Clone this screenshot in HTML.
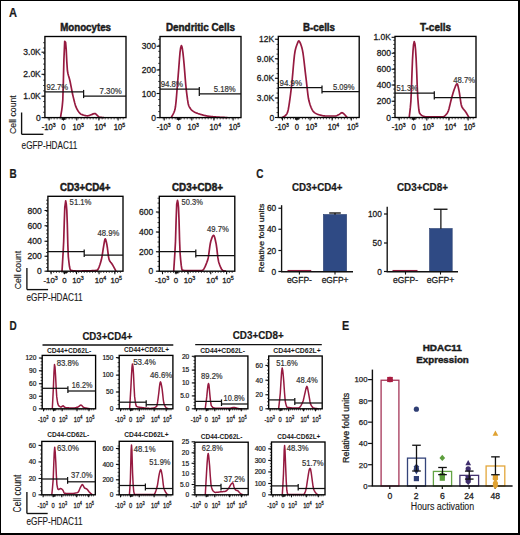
<!DOCTYPE html>
<html><head><meta charset="utf-8"><title>Figure</title>
<style>
html,body{margin:0;padding:0;background:#fff;}
body{width:520px;height:535px;position:relative;overflow:hidden;font-family:"Liberation Sans", sans-serif;}
.frame{position:absolute;left:0;top:0;width:520px;height:535px;box-sizing:border-box;border-style:solid;border-color:#000;border-width:1px 2px 2px 1px;pointer-events:none;}
</style></head><body>
<svg width="520" height="535" viewBox="0 0 520 535" style="position:absolute;left:0;top:0" font-family="'Liberation Sans', sans-serif" fill="#1a1a1a">
<rect x="0" y="0" width="520" height="535" fill="#fff"/>
<text x="9.1" y="17.2" font-size="12.4" text-anchor="start" font-weight="bold" textLength="8" lengthAdjust="spacingAndGlyphs" stroke="#1a1a1a" stroke-width="0.2">A</text>
<path d="M60.5,117.6 L61.08,113.85 L61.65,110.54 L62.22,106.35 L62.8,100 L63.35,81.99 L63.9,60 L64.7,41.3 L65.6,42.3 L66.2,49.23 L66.8,61.68 L67.4,70.5 L68,73.75 L68.6,76.01 L69.2,77.94 L69.8,80.2 L70.35,82.77 L70.9,85.55 L71.45,88.43 L72,91.27 L72.55,93.97 L73.1,96.4 L73.63,98.61 L74.17,100.8 L74.7,102.89 L75.23,104.8 L75.77,106.43 L76.3,107.7 L76.84,108.76 L77.39,109.75 L77.93,110.67 L78.48,111.52 L79.02,112.27 L79.57,112.92 L80.11,113.47 L80.66,113.9 L81.2,114.2 L81.73,114.43 L82.27,114.64 L82.8,114.84 L83.33,115.03 L83.87,115.2 L84.4,115.35 L84.93,115.48 L85.47,115.59 L86,115.68 L86.53,115.75 L87.07,115.79 L87.6,115.8 L88.17,115.75 L88.73,115.62 L89.3,115.43 L89.87,115.22 L90.43,115 L91,114.8 L91.56,114.6 L92.11,114.36 L92.67,114.12 L93.23,113.88 L93.79,113.69 L94.34,113.55 L94.9,113.5 L95.42,113.65 L95.94,114.05 L96.46,114.57 L96.98,115.13 L97.5,115.6 L98.05,116.07 L98.6,116.56 L99.15,116.97 L99.7,117.2 L100.24,117.29 L100.78,117.35 L101.31,117.4 L101.85,117.45 L102.39,117.48 L102.92,117.52 L103.46,117.56 L104,117.6" fill="none" stroke="#961a40" stroke-width="1.7" stroke-linejoin="round"/>
<rect x="44.9" y="36.5" width="81.1" height="81.1" fill="none" stroke="#000" stroke-width="1.35"/>
<line x1="41.5" y1="52.2" x2="44.9" y2="52.2" stroke="#111" stroke-width="1.1"/>
<text x="40.8" y="55.22" font-size="8.5" text-anchor="end" stroke="#1a1a1a" stroke-width="0.27">3.0K</text>
<line x1="41.5" y1="74.3" x2="44.9" y2="74.3" stroke="#111" stroke-width="1.1"/>
<text x="40.8" y="77.32" font-size="8.5" text-anchor="end" stroke="#1a1a1a" stroke-width="0.27">2.0K</text>
<line x1="41.5" y1="96.2" x2="44.9" y2="96.2" stroke="#111" stroke-width="1.1"/>
<text x="40.8" y="99.22" font-size="8.5" text-anchor="end" stroke="#1a1a1a" stroke-width="0.27">1.0K</text>
<line x1="41.5" y1="117.6" x2="44.9" y2="117.6" stroke="#111" stroke-width="1.1"/>
<text x="40.8" y="120.62" font-size="8.5" text-anchor="end" stroke="#1a1a1a" stroke-width="0.27">0</text>
<line x1="43.1" y1="117.6" x2="44.9" y2="117.6" stroke="#111" stroke-width="0.8"/>
<line x1="43.1" y1="112.25" x2="44.9" y2="112.25" stroke="#111" stroke-width="0.8"/>
<line x1="43.1" y1="106.9" x2="44.9" y2="106.9" stroke="#111" stroke-width="0.8"/>
<line x1="43.1" y1="101.55" x2="44.9" y2="101.55" stroke="#111" stroke-width="0.8"/>
<line x1="43.1" y1="96.2" x2="44.9" y2="96.2" stroke="#111" stroke-width="0.8"/>
<line x1="43.1" y1="90.85" x2="44.9" y2="90.85" stroke="#111" stroke-width="0.8"/>
<line x1="43.1" y1="85.5" x2="44.9" y2="85.5" stroke="#111" stroke-width="0.8"/>
<line x1="43.1" y1="80.15" x2="44.9" y2="80.15" stroke="#111" stroke-width="0.8"/>
<line x1="43.1" y1="74.8" x2="44.9" y2="74.8" stroke="#111" stroke-width="0.8"/>
<line x1="43.1" y1="69.45" x2="44.9" y2="69.45" stroke="#111" stroke-width="0.8"/>
<line x1="43.1" y1="64.1" x2="44.9" y2="64.1" stroke="#111" stroke-width="0.8"/>
<line x1="43.1" y1="58.75" x2="44.9" y2="58.75" stroke="#111" stroke-width="0.8"/>
<line x1="43.1" y1="53.4" x2="44.9" y2="53.4" stroke="#111" stroke-width="0.8"/>
<line x1="43.1" y1="48.05" x2="44.9" y2="48.05" stroke="#111" stroke-width="0.8"/>
<line x1="43.1" y1="42.7" x2="44.9" y2="42.7" stroke="#111" stroke-width="0.8"/>
<line x1="49.13" y1="117.6" x2="49.13" y2="120.6" stroke="#111" stroke-width="1.1"/>
<line x1="63.47" y1="117.6" x2="63.47" y2="120.6" stroke="#111" stroke-width="1.1"/>
<line x1="76.75" y1="117.6" x2="76.75" y2="120.6" stroke="#111" stroke-width="1.1"/>
<line x1="98.89" y1="117.6" x2="98.89" y2="120.6" stroke="#111" stroke-width="1.1"/>
<line x1="118.11" y1="117.6" x2="118.11" y2="120.6" stroke="#111" stroke-width="1.1"/>
<line x1="48.14" y1="117.6" x2="48.14" y2="119.4" stroke="#111" stroke-width="0.7"/>
<line x1="51.14" y1="117.6" x2="51.14" y2="119.4" stroke="#111" stroke-width="0.7"/>
<line x1="54.15" y1="117.6" x2="54.15" y2="119.4" stroke="#111" stroke-width="0.7"/>
<line x1="57.15" y1="117.6" x2="57.15" y2="119.4" stroke="#111" stroke-width="0.7"/>
<line x1="60.15" y1="117.6" x2="60.15" y2="119.4" stroke="#111" stroke-width="0.7"/>
<line x1="63.15" y1="117.6" x2="63.15" y2="119.4" stroke="#111" stroke-width="0.7"/>
<line x1="66.15" y1="117.6" x2="66.15" y2="119.4" stroke="#111" stroke-width="0.7"/>
<line x1="69.15" y1="117.6" x2="69.15" y2="119.4" stroke="#111" stroke-width="0.7"/>
<line x1="72.15" y1="117.6" x2="72.15" y2="119.4" stroke="#111" stroke-width="0.7"/>
<line x1="75.15" y1="117.6" x2="75.15" y2="119.4" stroke="#111" stroke-width="0.7"/>
<line x1="78.15" y1="117.6" x2="78.15" y2="119.4" stroke="#111" stroke-width="0.7"/>
<line x1="81.15" y1="117.6" x2="81.15" y2="119.4" stroke="#111" stroke-width="0.7"/>
<line x1="84.15" y1="117.6" x2="84.15" y2="119.4" stroke="#111" stroke-width="0.7"/>
<line x1="87.15" y1="117.6" x2="87.15" y2="119.4" stroke="#111" stroke-width="0.7"/>
<line x1="90.15" y1="117.6" x2="90.15" y2="119.4" stroke="#111" stroke-width="0.7"/>
<line x1="93.15" y1="117.6" x2="93.15" y2="119.4" stroke="#111" stroke-width="0.7"/>
<line x1="96.16" y1="117.6" x2="96.16" y2="119.4" stroke="#111" stroke-width="0.7"/>
<line x1="99.16" y1="117.6" x2="99.16" y2="119.4" stroke="#111" stroke-width="0.7"/>
<line x1="102.16" y1="117.6" x2="102.16" y2="119.4" stroke="#111" stroke-width="0.7"/>
<line x1="105.16" y1="117.6" x2="105.16" y2="119.4" stroke="#111" stroke-width="0.7"/>
<line x1="108.16" y1="117.6" x2="108.16" y2="119.4" stroke="#111" stroke-width="0.7"/>
<line x1="111.16" y1="117.6" x2="111.16" y2="119.4" stroke="#111" stroke-width="0.7"/>
<line x1="114.16" y1="117.6" x2="114.16" y2="119.4" stroke="#111" stroke-width="0.7"/>
<line x1="117.16" y1="117.6" x2="117.16" y2="119.4" stroke="#111" stroke-width="0.7"/>
<line x1="120.16" y1="117.6" x2="120.16" y2="119.4" stroke="#111" stroke-width="0.7"/>
<line x1="123.16" y1="117.6" x2="123.16" y2="119.4" stroke="#111" stroke-width="0.7"/>
<rect x="61.53" y="117.6" width="4.05" height="2.25" fill="#111"/>
<text transform="translate(48.63,129.9) scale(0.86,1)" x="0" y="0" font-size="8.9" text-anchor="middle" stroke="#1a1a1a" stroke-width="0.32">-10<tspan dy="-3.2" font-size="6.05">3</tspan></text>
<text transform="translate(63.47,129.9) scale(0.86,1)" x="0" y="0" font-size="8.9" text-anchor="middle" stroke="#1a1a1a" stroke-width="0.32">0</text>
<text transform="translate(78.15,129.9) scale(0.86,1)" x="0" y="0" font-size="8.9" text-anchor="middle" stroke="#1a1a1a" stroke-width="0.32">10<tspan dy="-3.2" font-size="6.05">3</tspan></text>
<text transform="translate(100.29,129.9) scale(0.86,1)" x="0" y="0" font-size="8.9" text-anchor="middle" stroke="#1a1a1a" stroke-width="0.32">10<tspan dy="-3.2" font-size="6.05">4</tspan></text>
<text transform="translate(119.51,129.9) scale(0.86,1)" x="0" y="0" font-size="8.9" text-anchor="middle" stroke="#1a1a1a" stroke-width="0.32">10<tspan dy="-3.2" font-size="6.05">5</tspan></text>
<line x1="44.9" y1="91.9" x2="83.6" y2="91.9" stroke="#111" stroke-width="1.25"/>
<line x1="83.6" y1="96.1" x2="126" y2="96.1" stroke="#111" stroke-width="1.25"/>
<line x1="83.6" y1="89.9" x2="83.6" y2="98.1" stroke="#111" stroke-width="1.25"/>
<text x="46.4" y="90.2" font-size="8.6" text-anchor="start" textLength="21.8" lengthAdjust="spacingAndGlyphs" fill="#333" stroke="#333" stroke-width="0.2">92.7%</text>
<text x="99.6" y="94.1" font-size="8.6" text-anchor="start" textLength="22.2" lengthAdjust="spacingAndGlyphs" fill="#333" stroke="#333" stroke-width="0.2">7.30%</text>
<text x="85.6" y="30.9" font-size="10.1" text-anchor="middle" font-weight="bold" textLength="50.8" lengthAdjust="spacingAndGlyphs" stroke="#1a1a1a" stroke-width="0.45">Monocytes</text>
<path d="M171.2,117.6 L171.74,116.51 L172.29,115.56 L172.83,114.64 L173.37,113.66 L173.91,112.51 L174.46,111.09 L175,109.3 L175.53,106.24 L176.07,101.37 L176.6,95.28 L177.13,88.53 L177.67,81.72 L178.2,75.4 L178.8,67.91 L179.4,59.74 L180,52.56 L180.6,48 L181.4,45.5 L181.9,46.64 L182.4,49 L182.95,52.89 L183.5,58 L184.06,63.92 L184.62,70.77 L185.18,77.86 L185.74,84.47 L186.3,89.9 L186.9,94.85 L187.5,99.46 L188.1,103.19 L188.7,105.5 L189.2,106.6 L189.7,107.54 L190.2,108.34 L190.7,109.03 L191.2,109.61 L191.7,110.1 L192.2,110.52 L192.7,110.9 L193.22,111.26 L193.74,111.59 L194.26,111.9 L194.79,112.18 L195.31,112.45 L195.83,112.69 L196.35,112.92 L196.87,113.13 L197.39,113.33 L197.91,113.52 L198.44,113.7 L198.96,113.87 L199.48,114.04 L200,114.2 L200.51,114.36 L201.02,114.51 L201.53,114.66 L202.04,114.8 L202.55,114.94 L203.06,115.08 L203.57,115.21 L204.08,115.34 L204.59,115.47 L205.11,115.58 L205.62,115.7 L206.13,115.81 L206.64,115.91 L207.15,116.01 L207.66,116.1 L208.17,116.18 L208.68,116.26 L209.19,116.33 L209.7,116.4 L210.21,116.46 L210.72,116.52 L211.23,116.57 L211.74,116.62 L212.25,116.67 L212.76,116.72 L213.27,116.77 L213.78,116.81 L214.29,116.85 L214.81,116.89 L215.32,116.93 L215.83,116.97 L216.34,117 L216.85,117.04 L217.36,117.07 L217.87,117.1 L218.38,117.14 L218.89,117.17 L219.4,117.2 L219.91,117.23 L220.41,117.26 L220.92,117.29 L221.43,117.31 L221.93,117.34 L222.44,117.36 L222.94,117.39 L223.45,117.41 L223.96,117.44 L224.46,117.46 L224.97,117.48 L225.47,117.5 L225.98,117.53 L226.49,117.55 L226.99,117.58 L227.5,117.6" fill="none" stroke="#961a40" stroke-width="1.7" stroke-linejoin="round"/>
<rect x="160" y="36.5" width="81" height="81.1" fill="none" stroke="#000" stroke-width="1.35"/>
<line x1="156.6" y1="46.25" x2="160" y2="46.25" stroke="#111" stroke-width="1.1"/>
<text x="155.9" y="49.27" font-size="8.5" text-anchor="end" stroke="#1a1a1a" stroke-width="0.27">300</text>
<line x1="156.6" y1="70" x2="160" y2="70" stroke="#111" stroke-width="1.1"/>
<text x="155.9" y="73.02" font-size="8.5" text-anchor="end" stroke="#1a1a1a" stroke-width="0.27">200</text>
<line x1="156.6" y1="93.5" x2="160" y2="93.5" stroke="#111" stroke-width="1.1"/>
<text x="155.9" y="96.52" font-size="8.5" text-anchor="end" stroke="#1a1a1a" stroke-width="0.27">100</text>
<line x1="156.6" y1="117.6" x2="160" y2="117.6" stroke="#111" stroke-width="1.1"/>
<text x="155.9" y="120.62" font-size="8.5" text-anchor="end" stroke="#1a1a1a" stroke-width="0.27">0</text>
<line x1="158.2" y1="117.6" x2="160" y2="117.6" stroke="#111" stroke-width="0.8"/>
<line x1="158.2" y1="111.57" x2="160" y2="111.57" stroke="#111" stroke-width="0.8"/>
<line x1="158.2" y1="105.55" x2="160" y2="105.55" stroke="#111" stroke-width="0.8"/>
<line x1="158.2" y1="99.52" x2="160" y2="99.52" stroke="#111" stroke-width="0.8"/>
<line x1="158.2" y1="93.5" x2="160" y2="93.5" stroke="#111" stroke-width="0.8"/>
<line x1="158.2" y1="87.47" x2="160" y2="87.47" stroke="#111" stroke-width="0.8"/>
<line x1="158.2" y1="81.45" x2="160" y2="81.45" stroke="#111" stroke-width="0.8"/>
<line x1="158.2" y1="75.42" x2="160" y2="75.42" stroke="#111" stroke-width="0.8"/>
<line x1="158.2" y1="69.4" x2="160" y2="69.4" stroke="#111" stroke-width="0.8"/>
<line x1="158.2" y1="63.37" x2="160" y2="63.37" stroke="#111" stroke-width="0.8"/>
<line x1="158.2" y1="57.35" x2="160" y2="57.35" stroke="#111" stroke-width="0.8"/>
<line x1="158.2" y1="51.32" x2="160" y2="51.32" stroke="#111" stroke-width="0.8"/>
<line x1="158.2" y1="45.3" x2="160" y2="45.3" stroke="#111" stroke-width="0.8"/>
<line x1="158.2" y1="39.27" x2="160" y2="39.27" stroke="#111" stroke-width="0.8"/>
<line x1="164.23" y1="117.6" x2="164.23" y2="120.6" stroke="#111" stroke-width="1.1"/>
<line x1="178.55" y1="117.6" x2="178.55" y2="120.6" stroke="#111" stroke-width="1.1"/>
<line x1="191.81" y1="117.6" x2="191.81" y2="120.6" stroke="#111" stroke-width="1.1"/>
<line x1="213.92" y1="117.6" x2="213.92" y2="120.6" stroke="#111" stroke-width="1.1"/>
<line x1="233.12" y1="117.6" x2="233.12" y2="120.6" stroke="#111" stroke-width="1.1"/>
<line x1="163.24" y1="117.6" x2="163.24" y2="119.4" stroke="#111" stroke-width="0.7"/>
<line x1="166.24" y1="117.6" x2="166.24" y2="119.4" stroke="#111" stroke-width="0.7"/>
<line x1="169.23" y1="117.6" x2="169.23" y2="119.4" stroke="#111" stroke-width="0.7"/>
<line x1="172.23" y1="117.6" x2="172.23" y2="119.4" stroke="#111" stroke-width="0.7"/>
<line x1="175.23" y1="117.6" x2="175.23" y2="119.4" stroke="#111" stroke-width="0.7"/>
<line x1="178.22" y1="117.6" x2="178.22" y2="119.4" stroke="#111" stroke-width="0.7"/>
<line x1="181.22" y1="117.6" x2="181.22" y2="119.4" stroke="#111" stroke-width="0.7"/>
<line x1="184.22" y1="117.6" x2="184.22" y2="119.4" stroke="#111" stroke-width="0.7"/>
<line x1="187.22" y1="117.6" x2="187.22" y2="119.4" stroke="#111" stroke-width="0.7"/>
<line x1="190.21" y1="117.6" x2="190.21" y2="119.4" stroke="#111" stroke-width="0.7"/>
<line x1="193.21" y1="117.6" x2="193.21" y2="119.4" stroke="#111" stroke-width="0.7"/>
<line x1="196.21" y1="117.6" x2="196.21" y2="119.4" stroke="#111" stroke-width="0.7"/>
<line x1="199.2" y1="117.6" x2="199.2" y2="119.4" stroke="#111" stroke-width="0.7"/>
<line x1="202.2" y1="117.6" x2="202.2" y2="119.4" stroke="#111" stroke-width="0.7"/>
<line x1="205.2" y1="117.6" x2="205.2" y2="119.4" stroke="#111" stroke-width="0.7"/>
<line x1="208.19" y1="117.6" x2="208.19" y2="119.4" stroke="#111" stroke-width="0.7"/>
<line x1="211.19" y1="117.6" x2="211.19" y2="119.4" stroke="#111" stroke-width="0.7"/>
<line x1="214.19" y1="117.6" x2="214.19" y2="119.4" stroke="#111" stroke-width="0.7"/>
<line x1="217.19" y1="117.6" x2="217.19" y2="119.4" stroke="#111" stroke-width="0.7"/>
<line x1="220.18" y1="117.6" x2="220.18" y2="119.4" stroke="#111" stroke-width="0.7"/>
<line x1="223.18" y1="117.6" x2="223.18" y2="119.4" stroke="#111" stroke-width="0.7"/>
<line x1="226.18" y1="117.6" x2="226.18" y2="119.4" stroke="#111" stroke-width="0.7"/>
<line x1="229.17" y1="117.6" x2="229.17" y2="119.4" stroke="#111" stroke-width="0.7"/>
<line x1="232.17" y1="117.6" x2="232.17" y2="119.4" stroke="#111" stroke-width="0.7"/>
<line x1="235.17" y1="117.6" x2="235.17" y2="119.4" stroke="#111" stroke-width="0.7"/>
<line x1="238.16" y1="117.6" x2="238.16" y2="119.4" stroke="#111" stroke-width="0.7"/>
<rect x="176.6" y="117.6" width="4.05" height="2.25" fill="#111"/>
<text transform="translate(163.73,129.9) scale(0.86,1)" x="0" y="0" font-size="8.9" text-anchor="middle" stroke="#1a1a1a" stroke-width="0.32">-10<tspan dy="-3.2" font-size="6.05">3</tspan></text>
<text transform="translate(178.55,129.9) scale(0.86,1)" x="0" y="0" font-size="8.9" text-anchor="middle" stroke="#1a1a1a" stroke-width="0.32">0</text>
<text transform="translate(193.21,129.9) scale(0.86,1)" x="0" y="0" font-size="8.9" text-anchor="middle" stroke="#1a1a1a" stroke-width="0.32">10<tspan dy="-3.2" font-size="6.05">3</tspan></text>
<text transform="translate(215.32,129.9) scale(0.86,1)" x="0" y="0" font-size="8.9" text-anchor="middle" stroke="#1a1a1a" stroke-width="0.32">10<tspan dy="-3.2" font-size="6.05">4</tspan></text>
<text transform="translate(234.52,129.9) scale(0.86,1)" x="0" y="0" font-size="8.9" text-anchor="middle" stroke="#1a1a1a" stroke-width="0.32">10<tspan dy="-3.2" font-size="6.05">5</tspan></text>
<line x1="160" y1="89.1" x2="199.3" y2="89.1" stroke="#111" stroke-width="1.25"/>
<line x1="199.3" y1="93.9" x2="241" y2="93.9" stroke="#111" stroke-width="1.25"/>
<line x1="199.3" y1="87.1" x2="199.3" y2="95.9" stroke="#111" stroke-width="1.25"/>
<text x="160.7" y="87.3" font-size="8.6" text-anchor="start" textLength="22.3" lengthAdjust="spacingAndGlyphs" fill="#333" stroke="#333" stroke-width="0.2">94.8%</text>
<text x="213.75" y="91.7" font-size="8.6" text-anchor="start" textLength="21.9" lengthAdjust="spacingAndGlyphs" fill="#333" stroke="#333" stroke-width="0.2">5.18%</text>
<text x="200.5" y="30.9" font-size="10.1" text-anchor="middle" font-weight="bold" textLength="69" lengthAdjust="spacingAndGlyphs" stroke="#1a1a1a" stroke-width="0.45">Dendritic Cells</text>
<path d="M282.2,117.5 L282.75,117.19 L283.3,116.91 L283.85,116.62 L284.4,116.31 L284.95,115.95 L285.5,115.5 L286.02,114.96 L286.55,114.26 L287.08,113.35 L287.6,112.2 L288.23,109.76 L288.87,106.09 L289.5,102 L290.05,98.22 L290.6,93.96 L291.15,89.38 L291.7,84.6 L292.25,79.17 L292.8,72.93 L293.35,66.46 L293.9,60.35 L294.45,55.16 L295,51.5 L295.55,49.06 L296.1,47.08 L296.65,45.43 L297.2,44 L297.73,42.58 L298.27,41.33 L298.8,40.8 L299.3,41.19 L299.8,42.11 L300.3,43.2 L300.82,44.43 L301.35,45.95 L301.88,47.77 L302.4,49.9 L302.97,52.97 L303.53,57 L304.1,61.66 L304.67,66.65 L305.23,71.64 L305.8,76.3 L306.33,80.74 L306.87,85.55 L307.4,90.36 L307.93,94.8 L308.47,98.51 L309,101.1 L309.5,102.83 L310,104.43 L310.5,105.89 L311,107.22 L311.5,108.41 L312,109.45 L312.5,110.36 L313,111.12 L313.5,111.73 L314,112.2 L314.5,112.58 L315,112.92 L315.5,113.23 L316,113.51 L316.5,113.77 L317,114 L317.5,114.21 L318,114.4 L318.5,114.57 L319,114.72 L319.5,114.87 L320,115 L320.51,115.13 L321.02,115.26 L321.53,115.39 L322.04,115.51 L322.55,115.63 L323.05,115.73 L323.56,115.82 L324.07,115.9 L324.58,115.95 L325.09,115.99 L325.6,116 L326.12,116 L326.64,116 L327.16,116 L327.68,116 L328.21,116 L328.73,116 L329.25,116 L329.77,116 L330.29,116 L330.81,116 L331.33,116 L331.85,116 L332.37,116 L332.89,116 L333.42,116 L333.94,116 L334.46,116 L334.98,116 L335.5,116 L336,115.95 L336.5,115.8 L337,115.59 L337.5,115.33 L338,115.05 L338.5,114.76 L339,114.5 L339.52,114.19 L340.03,113.81 L340.55,113.41 L341.07,113.05 L341.58,112.8 L342.1,112.7 L342.7,112.88 L343.3,113.33 L343.9,113.91 L344.5,114.5 L345.02,115.02 L345.54,115.61 L346.06,116.24 L346.58,116.88 L347.1,117.5" fill="none" stroke="#961a40" stroke-width="1.7" stroke-linejoin="round"/>
<rect x="278.3" y="36.4" width="80.9" height="81.1" fill="none" stroke="#000" stroke-width="1.35"/>
<line x1="274.9" y1="39.2" x2="278.3" y2="39.2" stroke="#111" stroke-width="1.1"/>
<text x="274.2" y="42.22" font-size="8.5" text-anchor="end" stroke="#1a1a1a" stroke-width="0.27">12K</text>
<line x1="274.9" y1="58.75" x2="278.3" y2="58.75" stroke="#111" stroke-width="1.1"/>
<text x="274.2" y="61.77" font-size="8.5" text-anchor="end" stroke="#1a1a1a" stroke-width="0.27">9.0K</text>
<line x1="274.9" y1="78.25" x2="278.3" y2="78.25" stroke="#111" stroke-width="1.1"/>
<text x="274.2" y="81.27" font-size="8.5" text-anchor="end" stroke="#1a1a1a" stroke-width="0.27">6.0K</text>
<line x1="274.9" y1="98" x2="278.3" y2="98" stroke="#111" stroke-width="1.1"/>
<text x="274.2" y="101.02" font-size="8.5" text-anchor="end" stroke="#1a1a1a" stroke-width="0.27">3.0K</text>
<line x1="274.9" y1="117.5" x2="278.3" y2="117.5" stroke="#111" stroke-width="1.1"/>
<text x="274.2" y="120.52" font-size="8.5" text-anchor="end" stroke="#1a1a1a" stroke-width="0.27">0</text>
<line x1="276.5" y1="117.5" x2="278.3" y2="117.5" stroke="#111" stroke-width="0.8"/>
<line x1="276.5" y1="112.62" x2="278.3" y2="112.62" stroke="#111" stroke-width="0.8"/>
<line x1="276.5" y1="107.75" x2="278.3" y2="107.75" stroke="#111" stroke-width="0.8"/>
<line x1="276.5" y1="102.88" x2="278.3" y2="102.88" stroke="#111" stroke-width="0.8"/>
<line x1="276.5" y1="98" x2="278.3" y2="98" stroke="#111" stroke-width="0.8"/>
<line x1="276.5" y1="93.12" x2="278.3" y2="93.12" stroke="#111" stroke-width="0.8"/>
<line x1="276.5" y1="88.25" x2="278.3" y2="88.25" stroke="#111" stroke-width="0.8"/>
<line x1="276.5" y1="83.38" x2="278.3" y2="83.38" stroke="#111" stroke-width="0.8"/>
<line x1="276.5" y1="78.5" x2="278.3" y2="78.5" stroke="#111" stroke-width="0.8"/>
<line x1="276.5" y1="73.62" x2="278.3" y2="73.62" stroke="#111" stroke-width="0.8"/>
<line x1="276.5" y1="68.75" x2="278.3" y2="68.75" stroke="#111" stroke-width="0.8"/>
<line x1="276.5" y1="63.88" x2="278.3" y2="63.88" stroke="#111" stroke-width="0.8"/>
<line x1="276.5" y1="59" x2="278.3" y2="59" stroke="#111" stroke-width="0.8"/>
<line x1="276.5" y1="54.12" x2="278.3" y2="54.12" stroke="#111" stroke-width="0.8"/>
<line x1="276.5" y1="49.25" x2="278.3" y2="49.25" stroke="#111" stroke-width="0.8"/>
<line x1="276.5" y1="44.38" x2="278.3" y2="44.38" stroke="#111" stroke-width="0.8"/>
<line x1="276.5" y1="39.5" x2="278.3" y2="39.5" stroke="#111" stroke-width="0.8"/>
<line x1="282.52" y1="117.5" x2="282.52" y2="120.5" stroke="#111" stroke-width="1.1"/>
<line x1="296.83" y1="117.5" x2="296.83" y2="120.5" stroke="#111" stroke-width="1.1"/>
<line x1="310.07" y1="117.5" x2="310.07" y2="120.5" stroke="#111" stroke-width="1.1"/>
<line x1="332.15" y1="117.5" x2="332.15" y2="120.5" stroke="#111" stroke-width="1.1"/>
<line x1="351.33" y1="117.5" x2="351.33" y2="120.5" stroke="#111" stroke-width="1.1"/>
<line x1="281.54" y1="117.5" x2="281.54" y2="119.3" stroke="#111" stroke-width="0.7"/>
<line x1="284.53" y1="117.5" x2="284.53" y2="119.3" stroke="#111" stroke-width="0.7"/>
<line x1="287.52" y1="117.5" x2="287.52" y2="119.3" stroke="#111" stroke-width="0.7"/>
<line x1="290.52" y1="117.5" x2="290.52" y2="119.3" stroke="#111" stroke-width="0.7"/>
<line x1="293.51" y1="117.5" x2="293.51" y2="119.3" stroke="#111" stroke-width="0.7"/>
<line x1="296.5" y1="117.5" x2="296.5" y2="119.3" stroke="#111" stroke-width="0.7"/>
<line x1="299.5" y1="117.5" x2="299.5" y2="119.3" stroke="#111" stroke-width="0.7"/>
<line x1="302.49" y1="117.5" x2="302.49" y2="119.3" stroke="#111" stroke-width="0.7"/>
<line x1="305.48" y1="117.5" x2="305.48" y2="119.3" stroke="#111" stroke-width="0.7"/>
<line x1="308.48" y1="117.5" x2="308.48" y2="119.3" stroke="#111" stroke-width="0.7"/>
<line x1="311.47" y1="117.5" x2="311.47" y2="119.3" stroke="#111" stroke-width="0.7"/>
<line x1="314.46" y1="117.5" x2="314.46" y2="119.3" stroke="#111" stroke-width="0.7"/>
<line x1="317.46" y1="117.5" x2="317.46" y2="119.3" stroke="#111" stroke-width="0.7"/>
<line x1="320.45" y1="117.5" x2="320.45" y2="119.3" stroke="#111" stroke-width="0.7"/>
<line x1="323.44" y1="117.5" x2="323.44" y2="119.3" stroke="#111" stroke-width="0.7"/>
<line x1="326.44" y1="117.5" x2="326.44" y2="119.3" stroke="#111" stroke-width="0.7"/>
<line x1="329.43" y1="117.5" x2="329.43" y2="119.3" stroke="#111" stroke-width="0.7"/>
<line x1="332.42" y1="117.5" x2="332.42" y2="119.3" stroke="#111" stroke-width="0.7"/>
<line x1="335.42" y1="117.5" x2="335.42" y2="119.3" stroke="#111" stroke-width="0.7"/>
<line x1="338.41" y1="117.5" x2="338.41" y2="119.3" stroke="#111" stroke-width="0.7"/>
<line x1="341.4" y1="117.5" x2="341.4" y2="119.3" stroke="#111" stroke-width="0.7"/>
<line x1="344.4" y1="117.5" x2="344.4" y2="119.3" stroke="#111" stroke-width="0.7"/>
<line x1="347.39" y1="117.5" x2="347.39" y2="119.3" stroke="#111" stroke-width="0.7"/>
<line x1="350.38" y1="117.5" x2="350.38" y2="119.3" stroke="#111" stroke-width="0.7"/>
<line x1="353.38" y1="117.5" x2="353.38" y2="119.3" stroke="#111" stroke-width="0.7"/>
<line x1="356.37" y1="117.5" x2="356.37" y2="119.3" stroke="#111" stroke-width="0.7"/>
<rect x="294.88" y="117.5" width="4.04" height="2.25" fill="#111"/>
<text transform="translate(282.02,129.8) scale(0.86,1)" x="0" y="0" font-size="8.9" text-anchor="middle" stroke="#1a1a1a" stroke-width="0.32">-10<tspan dy="-3.2" font-size="6.05">3</tspan></text>
<text transform="translate(296.83,129.8) scale(0.86,1)" x="0" y="0" font-size="8.9" text-anchor="middle" stroke="#1a1a1a" stroke-width="0.32">0</text>
<text transform="translate(311.47,129.8) scale(0.86,1)" x="0" y="0" font-size="8.9" text-anchor="middle" stroke="#1a1a1a" stroke-width="0.32">10<tspan dy="-3.2" font-size="6.05">3</tspan></text>
<text transform="translate(333.55,129.8) scale(0.86,1)" x="0" y="0" font-size="8.9" text-anchor="middle" stroke="#1a1a1a" stroke-width="0.32">10<tspan dy="-3.2" font-size="6.05">4</tspan></text>
<text transform="translate(352.73,129.8) scale(0.86,1)" x="0" y="0" font-size="8.9" text-anchor="middle" stroke="#1a1a1a" stroke-width="0.32">10<tspan dy="-3.2" font-size="6.05">5</tspan></text>
<line x1="278.3" y1="87.6" x2="322" y2="87.6" stroke="#111" stroke-width="1.25"/>
<line x1="322" y1="91.5" x2="359.2" y2="91.5" stroke="#111" stroke-width="1.25"/>
<line x1="322" y1="85.6" x2="322" y2="93.5" stroke="#111" stroke-width="1.25"/>
<text x="279.6" y="85.6" font-size="8.6" text-anchor="start" textLength="22.5" lengthAdjust="spacingAndGlyphs" fill="#333" stroke="#333" stroke-width="0.2">94.9%</text>
<text x="333" y="89.7" font-size="8.6" text-anchor="start" textLength="21.5" lengthAdjust="spacingAndGlyphs" fill="#333" stroke="#333" stroke-width="0.2">5.09%</text>
<text x="319" y="30.9" font-size="10.1" text-anchor="middle" font-weight="bold" textLength="32" lengthAdjust="spacingAndGlyphs" stroke="#1a1a1a" stroke-width="0.45">B-cells</text>
<path d="M409.2,117.5 L409.77,112.6 L410.33,107.69 L410.9,101.1 L411.43,89.23 L411.97,73.2 L412.5,59.8 L413,50.98 L413.5,45 L414.2,41.6 L415,44 L415.55,49.47 L416.1,58.1 L416.67,70.81 L417.23,86.21 L417.8,97.8 L418.33,104.58 L418.87,109.97 L419.4,112.7 L419.91,113.56 L420.43,114.25 L420.94,114.79 L421.46,115.2 L421.97,115.52 L422.49,115.78 L423,116 L423.5,116.2 L424,116.39 L424.5,116.55 L425,116.68 L425.5,116.77 L426,116.8 L426.5,116.8 L427.01,116.8 L427.51,116.8 L428.01,116.8 L428.52,116.8 L429.02,116.8 L429.52,116.8 L430.02,116.8 L430.53,116.8 L431.03,116.8 L431.53,116.8 L432.04,116.8 L432.54,116.8 L433.04,116.8 L433.55,116.8 L434.05,116.8 L434.55,116.8 L435.05,116.8 L435.56,116.8 L436.06,116.8 L436.56,116.8 L437.07,116.8 L437.57,116.8 L438.07,116.8 L438.58,116.8 L439.08,116.8 L439.58,116.8 L440.08,116.8 L440.59,116.8 L441.09,116.8 L441.59,116.8 L442.1,116.8 L442.6,116.8 L443.14,116.73 L443.69,116.54 L444.23,116.24 L444.78,115.83 L445.32,115.33 L445.87,114.76 L446.41,114.12 L446.96,113.43 L447.5,112.7 L448.02,111.7 L448.55,110.23 L449.07,108.4 L449.6,106.32 L450.12,104.11 L450.65,101.88 L451.18,99.74 L451.7,97.8 L452.2,96.04 L452.7,94.24 L453.2,92.5 L453.7,90.88 L454.2,89.5 L454.78,87.98 L455.36,86.46 L455.94,85.11 L456.52,84.16 L457.1,83.8 L457.6,84.53 L458.1,86.37 L458.6,88.77 L459.1,91.2 L459.6,94.01 L460.1,97.5 L460.6,101.08 L461.1,104.14 L461.6,106.1 L462.11,107.21 L462.62,108.1 L463.14,108.82 L463.65,109.44 L464.16,110 L464.68,110.56 L465.19,111.18 L465.7,111.9 L466.25,112.78 L466.8,113.69 L467.35,114.64 L467.9,115.6 L468.45,116.56 L469,117.5" fill="none" stroke="#961a40" stroke-width="1.7" stroke-linejoin="round"/>
<rect x="395" y="36.4" width="81" height="81.1" fill="none" stroke="#000" stroke-width="1.35"/>
<line x1="391.6" y1="37.3" x2="395" y2="37.3" stroke="#111" stroke-width="1.1"/>
<text x="390.9" y="40.32" font-size="8.5" text-anchor="end" stroke="#1a1a1a" stroke-width="0.27">1.0K</text>
<line x1="391.6" y1="53.25" x2="395" y2="53.25" stroke="#111" stroke-width="1.1"/>
<text x="390.9" y="56.27" font-size="8.5" text-anchor="end" stroke="#1a1a1a" stroke-width="0.27">800</text>
<line x1="391.6" y1="69.25" x2="395" y2="69.25" stroke="#111" stroke-width="1.1"/>
<text x="390.9" y="72.27" font-size="8.5" text-anchor="end" stroke="#1a1a1a" stroke-width="0.27">600</text>
<line x1="391.6" y1="85" x2="395" y2="85" stroke="#111" stroke-width="1.1"/>
<text x="390.9" y="88.02" font-size="8.5" text-anchor="end" stroke="#1a1a1a" stroke-width="0.27">400</text>
<line x1="391.6" y1="101.25" x2="395" y2="101.25" stroke="#111" stroke-width="1.1"/>
<text x="390.9" y="104.27" font-size="8.5" text-anchor="end" stroke="#1a1a1a" stroke-width="0.27">200</text>
<line x1="391.6" y1="117.5" x2="395" y2="117.5" stroke="#111" stroke-width="1.1"/>
<text x="390.9" y="120.52" font-size="8.5" text-anchor="end" stroke="#1a1a1a" stroke-width="0.27">0</text>
<line x1="393.2" y1="117.5" x2="395" y2="117.5" stroke="#111" stroke-width="0.8"/>
<line x1="393.2" y1="113.44" x2="395" y2="113.44" stroke="#111" stroke-width="0.8"/>
<line x1="393.2" y1="109.38" x2="395" y2="109.38" stroke="#111" stroke-width="0.8"/>
<line x1="393.2" y1="105.31" x2="395" y2="105.31" stroke="#111" stroke-width="0.8"/>
<line x1="393.2" y1="101.25" x2="395" y2="101.25" stroke="#111" stroke-width="0.8"/>
<line x1="393.2" y1="97.19" x2="395" y2="97.19" stroke="#111" stroke-width="0.8"/>
<line x1="393.2" y1="93.12" x2="395" y2="93.12" stroke="#111" stroke-width="0.8"/>
<line x1="393.2" y1="89.06" x2="395" y2="89.06" stroke="#111" stroke-width="0.8"/>
<line x1="393.2" y1="85" x2="395" y2="85" stroke="#111" stroke-width="0.8"/>
<line x1="393.2" y1="80.94" x2="395" y2="80.94" stroke="#111" stroke-width="0.8"/>
<line x1="393.2" y1="76.88" x2="395" y2="76.88" stroke="#111" stroke-width="0.8"/>
<line x1="393.2" y1="72.81" x2="395" y2="72.81" stroke="#111" stroke-width="0.8"/>
<line x1="393.2" y1="68.75" x2="395" y2="68.75" stroke="#111" stroke-width="0.8"/>
<line x1="393.2" y1="64.69" x2="395" y2="64.69" stroke="#111" stroke-width="0.8"/>
<line x1="393.2" y1="60.62" x2="395" y2="60.62" stroke="#111" stroke-width="0.8"/>
<line x1="393.2" y1="56.56" x2="395" y2="56.56" stroke="#111" stroke-width="0.8"/>
<line x1="393.2" y1="52.5" x2="395" y2="52.5" stroke="#111" stroke-width="0.8"/>
<line x1="393.2" y1="48.44" x2="395" y2="48.44" stroke="#111" stroke-width="0.8"/>
<line x1="393.2" y1="44.38" x2="395" y2="44.38" stroke="#111" stroke-width="0.8"/>
<line x1="393.2" y1="40.31" x2="395" y2="40.31" stroke="#111" stroke-width="0.8"/>
<line x1="399.23" y1="117.5" x2="399.23" y2="120.5" stroke="#111" stroke-width="1.1"/>
<line x1="413.55" y1="117.5" x2="413.55" y2="120.5" stroke="#111" stroke-width="1.1"/>
<line x1="426.81" y1="117.5" x2="426.81" y2="120.5" stroke="#111" stroke-width="1.1"/>
<line x1="448.92" y1="117.5" x2="448.92" y2="120.5" stroke="#111" stroke-width="1.1"/>
<line x1="468.12" y1="117.5" x2="468.12" y2="120.5" stroke="#111" stroke-width="1.1"/>
<line x1="398.24" y1="117.5" x2="398.24" y2="119.3" stroke="#111" stroke-width="0.7"/>
<line x1="401.24" y1="117.5" x2="401.24" y2="119.3" stroke="#111" stroke-width="0.7"/>
<line x1="404.23" y1="117.5" x2="404.23" y2="119.3" stroke="#111" stroke-width="0.7"/>
<line x1="407.23" y1="117.5" x2="407.23" y2="119.3" stroke="#111" stroke-width="0.7"/>
<line x1="410.23" y1="117.5" x2="410.23" y2="119.3" stroke="#111" stroke-width="0.7"/>
<line x1="413.23" y1="117.5" x2="413.23" y2="119.3" stroke="#111" stroke-width="0.7"/>
<line x1="416.22" y1="117.5" x2="416.22" y2="119.3" stroke="#111" stroke-width="0.7"/>
<line x1="419.22" y1="117.5" x2="419.22" y2="119.3" stroke="#111" stroke-width="0.7"/>
<line x1="422.22" y1="117.5" x2="422.22" y2="119.3" stroke="#111" stroke-width="0.7"/>
<line x1="425.21" y1="117.5" x2="425.21" y2="119.3" stroke="#111" stroke-width="0.7"/>
<line x1="428.21" y1="117.5" x2="428.21" y2="119.3" stroke="#111" stroke-width="0.7"/>
<line x1="431.21" y1="117.5" x2="431.21" y2="119.3" stroke="#111" stroke-width="0.7"/>
<line x1="434.2" y1="117.5" x2="434.2" y2="119.3" stroke="#111" stroke-width="0.7"/>
<line x1="437.2" y1="117.5" x2="437.2" y2="119.3" stroke="#111" stroke-width="0.7"/>
<line x1="440.2" y1="117.5" x2="440.2" y2="119.3" stroke="#111" stroke-width="0.7"/>
<line x1="443.19" y1="117.5" x2="443.19" y2="119.3" stroke="#111" stroke-width="0.7"/>
<line x1="446.19" y1="117.5" x2="446.19" y2="119.3" stroke="#111" stroke-width="0.7"/>
<line x1="449.19" y1="117.5" x2="449.19" y2="119.3" stroke="#111" stroke-width="0.7"/>
<line x1="452.19" y1="117.5" x2="452.19" y2="119.3" stroke="#111" stroke-width="0.7"/>
<line x1="455.18" y1="117.5" x2="455.18" y2="119.3" stroke="#111" stroke-width="0.7"/>
<line x1="458.18" y1="117.5" x2="458.18" y2="119.3" stroke="#111" stroke-width="0.7"/>
<line x1="461.18" y1="117.5" x2="461.18" y2="119.3" stroke="#111" stroke-width="0.7"/>
<line x1="464.17" y1="117.5" x2="464.17" y2="119.3" stroke="#111" stroke-width="0.7"/>
<line x1="467.17" y1="117.5" x2="467.17" y2="119.3" stroke="#111" stroke-width="0.7"/>
<line x1="470.17" y1="117.5" x2="470.17" y2="119.3" stroke="#111" stroke-width="0.7"/>
<line x1="473.16" y1="117.5" x2="473.16" y2="119.3" stroke="#111" stroke-width="0.7"/>
<rect x="411.61" y="117.5" width="4.05" height="2.25" fill="#111"/>
<text transform="translate(398.73,129.8) scale(0.86,1)" x="0" y="0" font-size="8.9" text-anchor="middle" stroke="#1a1a1a" stroke-width="0.32">-10<tspan dy="-3.2" font-size="6.05">3</tspan></text>
<text transform="translate(413.55,129.8) scale(0.86,1)" x="0" y="0" font-size="8.9" text-anchor="middle" stroke="#1a1a1a" stroke-width="0.32">0</text>
<text transform="translate(428.21,129.8) scale(0.86,1)" x="0" y="0" font-size="8.9" text-anchor="middle" stroke="#1a1a1a" stroke-width="0.32">10<tspan dy="-3.2" font-size="6.05">3</tspan></text>
<text transform="translate(450.32,129.8) scale(0.86,1)" x="0" y="0" font-size="8.9" text-anchor="middle" stroke="#1a1a1a" stroke-width="0.32">10<tspan dy="-3.2" font-size="6.05">4</tspan></text>
<text transform="translate(469.52,129.8) scale(0.86,1)" x="0" y="0" font-size="8.9" text-anchor="middle" stroke="#1a1a1a" stroke-width="0.32">10<tspan dy="-3.2" font-size="6.05">5</tspan></text>
<line x1="395" y1="93.2" x2="434.3" y2="93.2" stroke="#111" stroke-width="1.25"/>
<line x1="434.3" y1="97.5" x2="476" y2="97.5" stroke="#111" stroke-width="1.25"/>
<line x1="434.3" y1="91.2" x2="434.3" y2="99.5" stroke="#111" stroke-width="1.25"/>
<text x="396.6" y="91.4" font-size="8.6" text-anchor="start" textLength="21" lengthAdjust="spacingAndGlyphs" fill="#333" stroke="#333" stroke-width="0.2">51.3%</text>
<text x="453.3" y="83.2" font-size="8.6" text-anchor="start" textLength="21.8" lengthAdjust="spacingAndGlyphs" fill="#333" stroke="#333" stroke-width="0.2">48.7%</text>
<text x="435.5" y="30.9" font-size="10.1" text-anchor="middle" font-weight="bold" textLength="31" lengthAdjust="spacingAndGlyphs" stroke="#1a1a1a" stroke-width="0.45">T-cells</text>
<text x="15.9" y="114.6" font-size="9.4" text-anchor="middle" textLength="38.8" lengthAdjust="spacingAndGlyphs" transform="rotate(-90 15.9 114.6)" stroke="#1a1a1a" stroke-width="0.12">Cell count</text>
<line x1="21.6" y1="112.5" x2="21.6" y2="134.3" stroke="#111" stroke-width="1.35"/>
<line x1="21.6" y1="134.3" x2="43.4" y2="134.3" stroke="#111" stroke-width="1.35"/>
<text x="21.6" y="148.8" font-size="10.5" text-anchor="start" textLength="55.7" lengthAdjust="spacingAndGlyphs" stroke="#1a1a1a" stroke-width="0.12">eGFP-HDAC11</text>
<text x="9.5" y="177.5" font-size="12.4" text-anchor="start" font-weight="bold" textLength="7.2" lengthAdjust="spacingAndGlyphs" stroke="#1a1a1a" stroke-width="0.2">B</text>
<path d="M62,271.2 L62.57,261.86 L63.13,252.52 L63.7,241.2 L64.25,222.68 L64.8,207.3 L65.7,200.8 L66.25,203.78 L66.8,210.4 L67.3,224.12 L67.8,243.69 L68.3,256.5 L68.88,262 L69.45,266.28 L70.02,269.09 L70.6,270.2 L71.12,270.34 L71.63,270.47 L72.15,270.58 L72.67,270.68 L73.18,270.76 L73.7,270.83 L74.22,270.88 L74.73,270.93 L75.25,270.96 L75.77,270.98 L76.28,271 L76.8,271 L77.3,271 L77.8,271 L78.3,271 L78.8,271 L79.3,270.99 L79.8,270.99 L80.3,270.99 L80.8,270.99 L81.3,270.98 L81.8,270.98 L82.3,270.97 L82.8,270.96 L83.3,270.96 L83.8,270.95 L84.3,270.94 L84.8,270.93 L85.3,270.92 L85.8,270.91 L86.3,270.9 L86.8,270.89 L87.3,270.87 L87.8,270.86 L88.3,270.84 L88.8,270.83 L89.3,270.81 L89.8,270.79 L90.3,270.77 L90.8,270.75 L91.3,270.73 L91.8,270.7 L92.3,270.68 L92.8,270.65 L93.3,270.63 L93.8,270.6 L94.3,270.57 L94.8,270.54 L95.3,270.51 L95.8,270.47 L96.3,270.44 L96.8,270.4 L97.31,270.18 L97.82,269.62 L98.33,268.76 L98.84,267.64 L99.36,266.3 L99.87,264.79 L100.38,263.14 L100.89,261.4 L101.4,259.6 L101.98,256.86 L102.55,253.18 L103.12,249.26 L103.7,245.8 L104.2,242.83 L104.7,240.04 L105.2,238.8 L105.73,239.68 L106.27,241.76 L106.8,244.2 L107.38,247.76 L107.95,252.44 L108.52,256.86 L109.1,259.6 L109.62,260.72 L110.13,261.57 L110.65,262.24 L111.17,262.83 L111.68,263.45 L112.2,264.2 L112.74,265.12 L113.29,266.09 L113.83,267.09 L114.37,268.12 L114.91,269.15 L115.46,270.19 L116,271.2" fill="none" stroke="#961a40" stroke-width="1.7" stroke-linejoin="round"/>
<rect x="47.9" y="196.3" width="75.1" height="74.9" fill="none" stroke="#000" stroke-width="1.35"/>
<line x1="44.5" y1="210.5" x2="47.9" y2="210.5" stroke="#111" stroke-width="1.1"/>
<text x="41.8" y="213.52" font-size="8.5" text-anchor="end" stroke="#1a1a1a" stroke-width="0.27">800</text>
<line x1="44.5" y1="225.75" x2="47.9" y2="225.75" stroke="#111" stroke-width="1.1"/>
<text x="41.8" y="228.77" font-size="8.5" text-anchor="end" stroke="#1a1a1a" stroke-width="0.27">600</text>
<line x1="44.5" y1="241.25" x2="47.9" y2="241.25" stroke="#111" stroke-width="1.1"/>
<text x="41.8" y="244.27" font-size="8.5" text-anchor="end" stroke="#1a1a1a" stroke-width="0.27">400</text>
<line x1="44.5" y1="256.25" x2="47.9" y2="256.25" stroke="#111" stroke-width="1.1"/>
<text x="41.8" y="259.27" font-size="8.5" text-anchor="end" stroke="#1a1a1a" stroke-width="0.27">200</text>
<line x1="44.5" y1="271.2" x2="47.9" y2="271.2" stroke="#111" stroke-width="1.1"/>
<text x="41.8" y="274.22" font-size="8.5" text-anchor="end" stroke="#1a1a1a" stroke-width="0.27">0</text>
<line x1="46.1" y1="271.2" x2="47.9" y2="271.2" stroke="#111" stroke-width="0.8"/>
<line x1="46.1" y1="267.46" x2="47.9" y2="267.46" stroke="#111" stroke-width="0.8"/>
<line x1="46.1" y1="263.72" x2="47.9" y2="263.72" stroke="#111" stroke-width="0.8"/>
<line x1="46.1" y1="259.99" x2="47.9" y2="259.99" stroke="#111" stroke-width="0.8"/>
<line x1="46.1" y1="256.25" x2="47.9" y2="256.25" stroke="#111" stroke-width="0.8"/>
<line x1="46.1" y1="252.51" x2="47.9" y2="252.51" stroke="#111" stroke-width="0.8"/>
<line x1="46.1" y1="248.77" x2="47.9" y2="248.77" stroke="#111" stroke-width="0.8"/>
<line x1="46.1" y1="245.04" x2="47.9" y2="245.04" stroke="#111" stroke-width="0.8"/>
<line x1="46.1" y1="241.3" x2="47.9" y2="241.3" stroke="#111" stroke-width="0.8"/>
<line x1="46.1" y1="237.56" x2="47.9" y2="237.56" stroke="#111" stroke-width="0.8"/>
<line x1="46.1" y1="233.82" x2="47.9" y2="233.82" stroke="#111" stroke-width="0.8"/>
<line x1="46.1" y1="230.09" x2="47.9" y2="230.09" stroke="#111" stroke-width="0.8"/>
<line x1="46.1" y1="226.35" x2="47.9" y2="226.35" stroke="#111" stroke-width="0.8"/>
<line x1="46.1" y1="222.61" x2="47.9" y2="222.61" stroke="#111" stroke-width="0.8"/>
<line x1="46.1" y1="218.87" x2="47.9" y2="218.87" stroke="#111" stroke-width="0.8"/>
<line x1="46.1" y1="215.14" x2="47.9" y2="215.14" stroke="#111" stroke-width="0.8"/>
<line x1="46.1" y1="211.4" x2="47.9" y2="211.4" stroke="#111" stroke-width="0.8"/>
<line x1="46.1" y1="207.66" x2="47.9" y2="207.66" stroke="#111" stroke-width="0.8"/>
<line x1="46.1" y1="203.92" x2="47.9" y2="203.92" stroke="#111" stroke-width="0.8"/>
<line x1="46.1" y1="200.19" x2="47.9" y2="200.19" stroke="#111" stroke-width="0.8"/>
<line x1="51.1" y1="271.2" x2="51.1" y2="274.2" stroke="#111" stroke-width="1.1"/>
<line x1="64.5" y1="271.2" x2="64.5" y2="274.2" stroke="#111" stroke-width="1.1"/>
<line x1="76.54" y1="271.2" x2="76.54" y2="274.2" stroke="#111" stroke-width="1.1"/>
<line x1="99.07" y1="271.2" x2="99.07" y2="274.2" stroke="#111" stroke-width="1.1"/>
<line x1="114.84" y1="271.2" x2="114.84" y2="274.2" stroke="#111" stroke-width="1.1"/>
<line x1="50.9" y1="271.2" x2="50.9" y2="273" stroke="#111" stroke-width="0.7"/>
<line x1="53.68" y1="271.2" x2="53.68" y2="273" stroke="#111" stroke-width="0.7"/>
<line x1="56.46" y1="271.2" x2="56.46" y2="273" stroke="#111" stroke-width="0.7"/>
<line x1="59.24" y1="271.2" x2="59.24" y2="273" stroke="#111" stroke-width="0.7"/>
<line x1="62.02" y1="271.2" x2="62.02" y2="273" stroke="#111" stroke-width="0.7"/>
<line x1="64.8" y1="271.2" x2="64.8" y2="273" stroke="#111" stroke-width="0.7"/>
<line x1="67.58" y1="271.2" x2="67.58" y2="273" stroke="#111" stroke-width="0.7"/>
<line x1="70.35" y1="271.2" x2="70.35" y2="273" stroke="#111" stroke-width="0.7"/>
<line x1="73.13" y1="271.2" x2="73.13" y2="273" stroke="#111" stroke-width="0.7"/>
<line x1="75.91" y1="271.2" x2="75.91" y2="273" stroke="#111" stroke-width="0.7"/>
<line x1="78.69" y1="271.2" x2="78.69" y2="273" stroke="#111" stroke-width="0.7"/>
<line x1="81.47" y1="271.2" x2="81.47" y2="273" stroke="#111" stroke-width="0.7"/>
<line x1="84.25" y1="271.2" x2="84.25" y2="273" stroke="#111" stroke-width="0.7"/>
<line x1="87.03" y1="271.2" x2="87.03" y2="273" stroke="#111" stroke-width="0.7"/>
<line x1="89.81" y1="271.2" x2="89.81" y2="273" stroke="#111" stroke-width="0.7"/>
<line x1="92.58" y1="271.2" x2="92.58" y2="273" stroke="#111" stroke-width="0.7"/>
<line x1="95.36" y1="271.2" x2="95.36" y2="273" stroke="#111" stroke-width="0.7"/>
<line x1="98.14" y1="271.2" x2="98.14" y2="273" stroke="#111" stroke-width="0.7"/>
<line x1="100.92" y1="271.2" x2="100.92" y2="273" stroke="#111" stroke-width="0.7"/>
<line x1="103.7" y1="271.2" x2="103.7" y2="273" stroke="#111" stroke-width="0.7"/>
<line x1="106.48" y1="271.2" x2="106.48" y2="273" stroke="#111" stroke-width="0.7"/>
<line x1="109.26" y1="271.2" x2="109.26" y2="273" stroke="#111" stroke-width="0.7"/>
<line x1="112.04" y1="271.2" x2="112.04" y2="273" stroke="#111" stroke-width="0.7"/>
<line x1="114.81" y1="271.2" x2="114.81" y2="273" stroke="#111" stroke-width="0.7"/>
<line x1="117.59" y1="271.2" x2="117.59" y2="273" stroke="#111" stroke-width="0.7"/>
<line x1="120.37" y1="271.2" x2="120.37" y2="273" stroke="#111" stroke-width="0.7"/>
<rect x="63.3" y="271.2" width="3.75" height="2.25" fill="#111"/>
<text transform="translate(50.6,283.2) scale(1.0,1)" x="0" y="0" font-size="7.8" text-anchor="middle" stroke="#1a1a1a" stroke-width="0.28">-10<tspan dy="-2.81" font-size="5.3">3</tspan></text>
<text transform="translate(64.5,283.2) scale(1.0,1)" x="0" y="0" font-size="7.8" text-anchor="middle" stroke="#1a1a1a" stroke-width="0.28">0</text>
<text transform="translate(77.94,283.2) scale(1.0,1)" x="0" y="0" font-size="7.8" text-anchor="middle" stroke="#1a1a1a" stroke-width="0.28">10<tspan dy="-2.81" font-size="5.3">3</tspan></text>
<text transform="translate(100.47,283.2) scale(1.0,1)" x="0" y="0" font-size="7.8" text-anchor="middle" stroke="#1a1a1a" stroke-width="0.28">10<tspan dy="-2.81" font-size="5.3">4</tspan></text>
<text transform="translate(116.24,283.2) scale(1.0,1)" x="0" y="0" font-size="7.8" text-anchor="middle" stroke="#1a1a1a" stroke-width="0.28">10<tspan dy="-2.81" font-size="5.3">5</tspan></text>
<line x1="47.9" y1="251.5" x2="84.2" y2="251.5" stroke="#111" stroke-width="1.25"/>
<line x1="84.2" y1="255" x2="123" y2="255" stroke="#111" stroke-width="1.25"/>
<line x1="84.2" y1="249.5" x2="84.2" y2="257" stroke="#111" stroke-width="1.25"/>
<text x="69.6" y="204.9" font-size="8.6" text-anchor="start" textLength="21.9" lengthAdjust="spacingAndGlyphs" fill="#333" stroke="#333" stroke-width="0.2">51.1%</text>
<text x="97.5" y="235.6" font-size="8.6" text-anchor="start" textLength="21.8" lengthAdjust="spacingAndGlyphs" fill="#333" stroke="#333" stroke-width="0.2">48.9%</text>
<text x="85.25" y="191.25" font-size="10.1" text-anchor="middle" font-weight="bold" textLength="50.5" lengthAdjust="spacingAndGlyphs" stroke="#1a1a1a" stroke-width="0.45">CD3+CD4+</text>
<path d="M173.7,271.2 L174.3,261.92 L174.9,252.64 L175.5,241.2 L176.1,220.57 L176.7,204.2 L177.5,200.4 L178,202.52 L178.5,207.3 L179.03,220.36 L179.57,239.9 L180.1,253.5 L180.68,260.06 L181.25,265.43 L181.82,269.06 L182.4,270.4 L182.91,270.42 L183.41,270.44 L183.92,270.46 L184.42,270.48 L184.93,270.49 L185.43,270.51 L185.94,270.53 L186.44,270.54 L186.95,270.55 L187.45,270.57 L187.96,270.58 L188.46,270.59 L188.97,270.6 L189.47,270.61 L189.98,270.62 L190.48,270.63 L190.99,270.64 L191.49,270.64 L192,270.65 L192.51,270.66 L193.01,270.66 L193.52,270.67 L194.02,270.67 L194.53,270.68 L195.03,270.68 L195.54,270.68 L196.04,270.69 L196.55,270.69 L197.05,270.69 L197.56,270.69 L198.06,270.7 L198.57,270.7 L199.07,270.7 L199.58,270.7 L200.08,270.7 L200.59,270.7 L201.09,270.7 L201.6,270.7 L202.12,270.6 L202.63,270.3 L203.15,269.83 L203.67,269.18 L204.18,268.38 L204.7,267.44 L205.22,266.38 L205.73,265.2 L206.25,263.91 L206.77,262.55 L207.28,261.1 L207.8,259.6 L208.3,257.43 L208.8,254.21 L209.3,250.46 L209.8,246.7 L210.3,243.44 L210.8,241.2 L211.36,239.47 L211.92,237.87 L212.48,236.54 L213.04,235.63 L213.6,235.3 L214.12,235.83 L214.64,237.26 L215.16,239.3 L215.68,241.71 L216.2,244.2 L216.77,248.01 L217.35,253.08 L217.93,257.95 L218.5,261.2 L219.02,262.91 L219.54,264.49 L220.07,265.92 L220.59,267.19 L221.11,268.29 L221.63,269.21 L222.16,269.92 L222.68,270.42 L223.2,270.7 L223.76,270.85 L224.32,270.95 L224.88,271.03 L225.44,271.11 L226,271.2" fill="none" stroke="#961a40" stroke-width="1.7" stroke-linejoin="round"/>
<rect x="159.3" y="196.3" width="75.5" height="74.9" fill="none" stroke="#000" stroke-width="1.35"/>
<line x1="155.9" y1="212" x2="159.3" y2="212" stroke="#111" stroke-width="1.1"/>
<text x="153.2" y="215.02" font-size="8.5" text-anchor="end" stroke="#1a1a1a" stroke-width="0.27">600</text>
<line x1="155.9" y1="232" x2="159.3" y2="232" stroke="#111" stroke-width="1.1"/>
<text x="153.2" y="235.02" font-size="8.5" text-anchor="end" stroke="#1a1a1a" stroke-width="0.27">400</text>
<line x1="155.9" y1="251.75" x2="159.3" y2="251.75" stroke="#111" stroke-width="1.1"/>
<text x="153.2" y="254.77" font-size="8.5" text-anchor="end" stroke="#1a1a1a" stroke-width="0.27">200</text>
<line x1="155.9" y1="271.2" x2="159.3" y2="271.2" stroke="#111" stroke-width="1.1"/>
<text x="153.2" y="274.22" font-size="8.5" text-anchor="end" stroke="#1a1a1a" stroke-width="0.27">0</text>
<line x1="157.5" y1="271.2" x2="159.3" y2="271.2" stroke="#111" stroke-width="0.8"/>
<line x1="157.5" y1="266.34" x2="159.3" y2="266.34" stroke="#111" stroke-width="0.8"/>
<line x1="157.5" y1="261.47" x2="159.3" y2="261.47" stroke="#111" stroke-width="0.8"/>
<line x1="157.5" y1="256.61" x2="159.3" y2="256.61" stroke="#111" stroke-width="0.8"/>
<line x1="157.5" y1="251.75" x2="159.3" y2="251.75" stroke="#111" stroke-width="0.8"/>
<line x1="157.5" y1="246.89" x2="159.3" y2="246.89" stroke="#111" stroke-width="0.8"/>
<line x1="157.5" y1="242.02" x2="159.3" y2="242.02" stroke="#111" stroke-width="0.8"/>
<line x1="157.5" y1="237.16" x2="159.3" y2="237.16" stroke="#111" stroke-width="0.8"/>
<line x1="157.5" y1="232.3" x2="159.3" y2="232.3" stroke="#111" stroke-width="0.8"/>
<line x1="157.5" y1="227.44" x2="159.3" y2="227.44" stroke="#111" stroke-width="0.8"/>
<line x1="157.5" y1="222.57" x2="159.3" y2="222.57" stroke="#111" stroke-width="0.8"/>
<line x1="157.5" y1="217.71" x2="159.3" y2="217.71" stroke="#111" stroke-width="0.8"/>
<line x1="157.5" y1="212.85" x2="159.3" y2="212.85" stroke="#111" stroke-width="0.8"/>
<line x1="157.5" y1="207.99" x2="159.3" y2="207.99" stroke="#111" stroke-width="0.8"/>
<line x1="157.5" y1="203.12" x2="159.3" y2="203.12" stroke="#111" stroke-width="0.8"/>
<line x1="157.5" y1="198.26" x2="159.3" y2="198.26" stroke="#111" stroke-width="0.8"/>
<line x1="162.52" y1="271.2" x2="162.52" y2="274.2" stroke="#111" stroke-width="1.1"/>
<line x1="175.99" y1="271.2" x2="175.99" y2="274.2" stroke="#111" stroke-width="1.1"/>
<line x1="188.1" y1="271.2" x2="188.1" y2="274.2" stroke="#111" stroke-width="1.1"/>
<line x1="210.75" y1="271.2" x2="210.75" y2="274.2" stroke="#111" stroke-width="1.1"/>
<line x1="226.6" y1="271.2" x2="226.6" y2="274.2" stroke="#111" stroke-width="1.1"/>
<line x1="162.32" y1="271.2" x2="162.32" y2="273" stroke="#111" stroke-width="0.7"/>
<line x1="165.11" y1="271.2" x2="165.11" y2="273" stroke="#111" stroke-width="0.7"/>
<line x1="167.91" y1="271.2" x2="167.91" y2="273" stroke="#111" stroke-width="0.7"/>
<line x1="170.7" y1="271.2" x2="170.7" y2="273" stroke="#111" stroke-width="0.7"/>
<line x1="173.49" y1="271.2" x2="173.49" y2="273" stroke="#111" stroke-width="0.7"/>
<line x1="176.29" y1="271.2" x2="176.29" y2="273" stroke="#111" stroke-width="0.7"/>
<line x1="179.08" y1="271.2" x2="179.08" y2="273" stroke="#111" stroke-width="0.7"/>
<line x1="181.87" y1="271.2" x2="181.87" y2="273" stroke="#111" stroke-width="0.7"/>
<line x1="184.67" y1="271.2" x2="184.67" y2="273" stroke="#111" stroke-width="0.7"/>
<line x1="187.46" y1="271.2" x2="187.46" y2="273" stroke="#111" stroke-width="0.7"/>
<line x1="190.25" y1="271.2" x2="190.25" y2="273" stroke="#111" stroke-width="0.7"/>
<line x1="193.05" y1="271.2" x2="193.05" y2="273" stroke="#111" stroke-width="0.7"/>
<line x1="195.84" y1="271.2" x2="195.84" y2="273" stroke="#111" stroke-width="0.7"/>
<line x1="198.64" y1="271.2" x2="198.64" y2="273" stroke="#111" stroke-width="0.7"/>
<line x1="201.43" y1="271.2" x2="201.43" y2="273" stroke="#111" stroke-width="0.7"/>
<line x1="204.22" y1="271.2" x2="204.22" y2="273" stroke="#111" stroke-width="0.7"/>
<line x1="207.02" y1="271.2" x2="207.02" y2="273" stroke="#111" stroke-width="0.7"/>
<line x1="209.81" y1="271.2" x2="209.81" y2="273" stroke="#111" stroke-width="0.7"/>
<line x1="212.6" y1="271.2" x2="212.6" y2="273" stroke="#111" stroke-width="0.7"/>
<line x1="215.4" y1="271.2" x2="215.4" y2="273" stroke="#111" stroke-width="0.7"/>
<line x1="218.19" y1="271.2" x2="218.19" y2="273" stroke="#111" stroke-width="0.7"/>
<line x1="220.98" y1="271.2" x2="220.98" y2="273" stroke="#111" stroke-width="0.7"/>
<line x1="223.78" y1="271.2" x2="223.78" y2="273" stroke="#111" stroke-width="0.7"/>
<line x1="226.57" y1="271.2" x2="226.57" y2="273" stroke="#111" stroke-width="0.7"/>
<line x1="229.36" y1="271.2" x2="229.36" y2="273" stroke="#111" stroke-width="0.7"/>
<line x1="232.16" y1="271.2" x2="232.16" y2="273" stroke="#111" stroke-width="0.7"/>
<rect x="174.78" y="271.2" width="3.78" height="2.25" fill="#111"/>
<text transform="translate(162.02,283.2) scale(1.0,1)" x="0" y="0" font-size="7.8" text-anchor="middle" stroke="#1a1a1a" stroke-width="0.28">-10<tspan dy="-2.81" font-size="5.3">3</tspan></text>
<text transform="translate(175.99,283.2) scale(1.0,1)" x="0" y="0" font-size="7.8" text-anchor="middle" stroke="#1a1a1a" stroke-width="0.28">0</text>
<text transform="translate(189.5,283.2) scale(1.0,1)" x="0" y="0" font-size="7.8" text-anchor="middle" stroke="#1a1a1a" stroke-width="0.28">10<tspan dy="-2.81" font-size="5.3">3</tspan></text>
<text transform="translate(212.15,283.2) scale(1.0,1)" x="0" y="0" font-size="7.8" text-anchor="middle" stroke="#1a1a1a" stroke-width="0.28">10<tspan dy="-2.81" font-size="5.3">4</tspan></text>
<text transform="translate(228,283.2) scale(1.0,1)" x="0" y="0" font-size="7.8" text-anchor="middle" stroke="#1a1a1a" stroke-width="0.28">10<tspan dy="-2.81" font-size="5.3">5</tspan></text>
<line x1="159.3" y1="251.6" x2="195.8" y2="251.6" stroke="#111" stroke-width="1.25"/>
<line x1="195.8" y1="255.5" x2="234.8" y2="255.5" stroke="#111" stroke-width="1.25"/>
<line x1="195.8" y1="249.6" x2="195.8" y2="257.5" stroke="#111" stroke-width="1.25"/>
<text x="181.6" y="204.5" font-size="8.6" text-anchor="start" textLength="21.2" lengthAdjust="spacingAndGlyphs" fill="#333" stroke="#333" stroke-width="0.2">50.3%</text>
<text x="207" y="231.9" font-size="8.6" text-anchor="start" textLength="21.8" lengthAdjust="spacingAndGlyphs" fill="#333" stroke="#333" stroke-width="0.2">49.7%</text>
<text x="197.5" y="191.25" font-size="10.1" text-anchor="middle" font-weight="bold" textLength="51" lengthAdjust="spacingAndGlyphs" stroke="#1a1a1a" stroke-width="0.45">CD3+CD8+</text>
<text x="21.3" y="270" font-size="9.4" text-anchor="middle" textLength="38.3" lengthAdjust="spacingAndGlyphs" transform="rotate(-90 21.3 270)" stroke="#1a1a1a" stroke-width="0.12">Cell count</text>
<line x1="26.9" y1="268" x2="26.9" y2="289.6" stroke="#111" stroke-width="1.35"/>
<line x1="26.9" y1="289.6" x2="48.1" y2="289.6" stroke="#111" stroke-width="1.35"/>
<text x="26.5" y="301.4" font-size="10.3" text-anchor="start" textLength="56" lengthAdjust="spacingAndGlyphs" stroke="#1a1a1a" stroke-width="0.12">eGFP-HDAC11</text>
<text x="256.2" y="177.6" font-size="12.4" text-anchor="start" font-weight="bold" textLength="7.2" lengthAdjust="spacingAndGlyphs" stroke="#1a1a1a" stroke-width="0.2">C</text>
<rect x="323.4" y="214.5" width="23.2" height="57.25" fill="#2f4a84" stroke="#263d6e" stroke-width="0.6"/>
<rect x="287.5" y="269.95" width="23.75" height="1.8" fill="#8e1a3c"/>
<line x1="335" y1="213" x2="335" y2="214.7" stroke="#111" stroke-width="1.25"/>
<line x1="329.2" y1="213" x2="340.8" y2="213" stroke="#111" stroke-width="1.35"/>
<line x1="281.6" y1="205.2" x2="281.6" y2="271.75" stroke="#111" stroke-width="1.35"/>
<line x1="281" y1="271.75" x2="353" y2="271.75" stroke="#111" stroke-width="1.35"/>
<line x1="278.4" y1="208.25" x2="281.6" y2="208.25" stroke="#111" stroke-width="1.2"/>
<text x="276.2" y="211.25" font-size="8.3" text-anchor="end" stroke="#1a1a1a" stroke-width="0.27">60</text>
<line x1="278.4" y1="229.25" x2="281.6" y2="229.25" stroke="#111" stroke-width="1.2"/>
<text x="276.2" y="232.25" font-size="8.3" text-anchor="end" stroke="#1a1a1a" stroke-width="0.27">40</text>
<line x1="278.4" y1="250.5" x2="281.6" y2="250.5" stroke="#111" stroke-width="1.2"/>
<text x="276.2" y="253.5" font-size="8.3" text-anchor="end" stroke="#1a1a1a" stroke-width="0.27">20</text>
<line x1="278.4" y1="271.5" x2="281.6" y2="271.5" stroke="#111" stroke-width="1.2"/>
<text x="276.2" y="274.5" font-size="8.3" text-anchor="end" stroke="#1a1a1a" stroke-width="0.27">0</text>
<line x1="299.4" y1="271.75" x2="299.4" y2="274.55" stroke="#111" stroke-width="1.1"/>
<text x="299.4" y="282.7" font-size="8.3" text-anchor="middle" textLength="25" lengthAdjust="spacingAndGlyphs" stroke="#1a1a1a" stroke-width="0.27">eGFP-</text>
<line x1="335" y1="271.75" x2="335" y2="274.55" stroke="#111" stroke-width="1.1"/>
<text x="335" y="282.7" font-size="8.3" text-anchor="middle" textLength="26.75" lengthAdjust="spacingAndGlyphs" stroke="#1a1a1a" stroke-width="0.27">eGFP+</text>
<text x="317.25" y="191.3" font-size="10.2" text-anchor="middle" font-weight="bold" textLength="50.5" lengthAdjust="spacingAndGlyphs" stroke="#1a1a1a" stroke-width="0.22">CD3+CD4+</text>
<text x="263.6" y="238.1" font-size="8" text-anchor="middle" textLength="68.75" lengthAdjust="spacingAndGlyphs" transform="rotate(-90 263.6 238.1)" stroke="#1a1a1a" stroke-width="0.26">Relative fold units</text>
<rect x="429.55" y="228.55" width="22.65" height="43.2" fill="#2f4a84" stroke="#263d6e" stroke-width="0.6"/>
<rect x="392.5" y="269.95" width="25" height="1.8" fill="#8e1a3c"/>
<line x1="440.88" y1="209.25" x2="440.88" y2="228.75" stroke="#111" stroke-width="1.25"/>
<line x1="433.75" y1="209.25" x2="447.5" y2="209.25" stroke="#111" stroke-width="1.35"/>
<line x1="387.2" y1="206.8" x2="387.2" y2="271.75" stroke="#111" stroke-width="1.35"/>
<line x1="386.6" y1="271.75" x2="458" y2="271.75" stroke="#111" stroke-width="1.35"/>
<line x1="384" y1="214" x2="387.2" y2="214" stroke="#111" stroke-width="1.2"/>
<text x="381.8" y="217" font-size="8.3" text-anchor="end" stroke="#1a1a1a" stroke-width="0.27">100</text>
<line x1="384" y1="243" x2="387.2" y2="243" stroke="#111" stroke-width="1.2"/>
<text x="381.8" y="246" font-size="8.3" text-anchor="end" stroke="#1a1a1a" stroke-width="0.27">50</text>
<line x1="384" y1="271.5" x2="387.2" y2="271.5" stroke="#111" stroke-width="1.2"/>
<text x="381.8" y="274.5" font-size="8.3" text-anchor="end" stroke="#1a1a1a" stroke-width="0.27">0</text>
<line x1="405.5" y1="271.75" x2="405.5" y2="274.55" stroke="#111" stroke-width="1.1"/>
<text x="405.5" y="282.7" font-size="8.3" text-anchor="middle" textLength="25" lengthAdjust="spacingAndGlyphs" stroke="#1a1a1a" stroke-width="0.27">eGFP-</text>
<line x1="440.5" y1="271.75" x2="440.5" y2="274.55" stroke="#111" stroke-width="1.1"/>
<text x="440.5" y="282.7" font-size="8.3" text-anchor="middle" textLength="27.5" lengthAdjust="spacingAndGlyphs" stroke="#1a1a1a" stroke-width="0.27">eGFP+</text>
<text x="422.5" y="191.3" font-size="10.2" text-anchor="middle" font-weight="bold" textLength="51" lengthAdjust="spacingAndGlyphs" stroke="#1a1a1a" stroke-width="0.22">CD3+CD8+</text>
<text x="9.5" y="330" font-size="12.4" text-anchor="start" font-weight="bold" textLength="7.2" lengthAdjust="spacingAndGlyphs" stroke="#1a1a1a" stroke-width="0.2">D</text>
<text x="107.35" y="339.5" font-size="10.5" text-anchor="middle" font-weight="bold" textLength="49.9" lengthAdjust="spacingAndGlyphs" stroke="#1a1a1a" stroke-width="0.2">CD3+CD4+</text>
<line x1="42.5" y1="345" x2="173.3" y2="345" stroke="#111" stroke-width="1.35"/>
<text x="258.2" y="339.4" font-size="10.5" text-anchor="middle" font-weight="bold" textLength="51" lengthAdjust="spacingAndGlyphs" stroke="#1a1a1a" stroke-width="0.2">CD3+CD8+</text>
<line x1="195.2" y1="344.6" x2="321.8" y2="344.6" stroke="#111" stroke-width="1.35"/>
<path d="M52.3,408.8 L52.85,398.51 L53.4,387.4 L54,372 L54.5,364.6 L55,367 L55.6,376.3 L56.15,387.47 L56.7,396.4 L57.27,400.7 L57.83,403.77 L58.4,405.3 L58.96,405.89 L59.52,406.37 L60.08,406.71 L60.64,406.93 L61.2,407 L61.77,406.69 L62.33,406.11 L62.9,405.8 L63.45,406.05 L64,406.61 L64.55,407.19 L65.1,407.5 L65.62,407.57 L66.14,407.63 L66.66,407.68 L67.17,407.73 L67.69,407.78 L68.21,407.82 L68.73,407.86 L69.25,407.89 L69.77,407.92 L70.29,407.94 L70.81,407.96 L71.33,407.97 L71.84,407.99 L72.36,407.99 L72.88,408 L73.4,408 L73.9,407.98 L74.4,407.93 L74.9,407.85 L75.4,407.75 L75.9,407.62 L76.4,407.48 L76.9,407.33 L77.4,407.17 L77.9,407 L78.42,406.74 L78.93,406.35 L79.45,405.92 L79.97,405.52 L80.48,405.22 L81,405.1 L81.5,405.3 L82,405.78 L82.5,406.38 L83,406.94 L83.5,407.3 L84.05,407.51 L84.6,407.68 L85.15,407.83 L85.7,407.96 L86.25,408.07 L86.8,408.18 L87.35,408.29 L87.9,408.4 L88.43,408.51 L88.95,408.61 L89.47,408.7 L90,408.8" fill="none" stroke="#961a40" stroke-width="1.5" stroke-linejoin="round"/>
<rect x="42.2" y="355.4" width="53.4" height="53.4" fill="none" stroke="#000" stroke-width="1.35"/>
<line x1="38.9" y1="358" x2="42.2" y2="358" stroke="#111" stroke-width="1.1"/>
<text x="36.4" y="360.34" font-size="6.6" text-anchor="end" stroke="#1a1a1a" stroke-width="0.21">120</text>
<line x1="38.9" y1="370.75" x2="42.2" y2="370.75" stroke="#111" stroke-width="1.1"/>
<text x="36.4" y="373.09" font-size="6.6" text-anchor="end" stroke="#1a1a1a" stroke-width="0.21">90</text>
<line x1="38.9" y1="383.75" x2="42.2" y2="383.75" stroke="#111" stroke-width="1.1"/>
<text x="36.4" y="386.09" font-size="6.6" text-anchor="end" stroke="#1a1a1a" stroke-width="0.21">60</text>
<line x1="38.9" y1="396.25" x2="42.2" y2="396.25" stroke="#111" stroke-width="1.1"/>
<text x="36.4" y="398.59" font-size="6.6" text-anchor="end" stroke="#1a1a1a" stroke-width="0.21">30</text>
<line x1="38.9" y1="408.8" x2="42.2" y2="408.8" stroke="#111" stroke-width="1.1"/>
<text x="36.4" y="411.14" font-size="6.6" text-anchor="end" stroke="#1a1a1a" stroke-width="0.21">0</text>
<line x1="40.6" y1="408.8" x2="42.2" y2="408.8" stroke="#111" stroke-width="0.8"/>
<line x1="40.6" y1="405.66" x2="42.2" y2="405.66" stroke="#111" stroke-width="0.8"/>
<line x1="40.6" y1="402.53" x2="42.2" y2="402.53" stroke="#111" stroke-width="0.8"/>
<line x1="40.6" y1="399.39" x2="42.2" y2="399.39" stroke="#111" stroke-width="0.8"/>
<line x1="40.6" y1="396.25" x2="42.2" y2="396.25" stroke="#111" stroke-width="0.8"/>
<line x1="40.6" y1="393.11" x2="42.2" y2="393.11" stroke="#111" stroke-width="0.8"/>
<line x1="40.6" y1="389.98" x2="42.2" y2="389.98" stroke="#111" stroke-width="0.8"/>
<line x1="40.6" y1="386.84" x2="42.2" y2="386.84" stroke="#111" stroke-width="0.8"/>
<line x1="40.6" y1="383.7" x2="42.2" y2="383.7" stroke="#111" stroke-width="0.8"/>
<line x1="40.6" y1="380.56" x2="42.2" y2="380.56" stroke="#111" stroke-width="0.8"/>
<line x1="40.6" y1="377.43" x2="42.2" y2="377.43" stroke="#111" stroke-width="0.8"/>
<line x1="40.6" y1="374.29" x2="42.2" y2="374.29" stroke="#111" stroke-width="0.8"/>
<line x1="40.6" y1="371.15" x2="42.2" y2="371.15" stroke="#111" stroke-width="0.8"/>
<line x1="40.6" y1="368.01" x2="42.2" y2="368.01" stroke="#111" stroke-width="0.8"/>
<line x1="40.6" y1="364.88" x2="42.2" y2="364.88" stroke="#111" stroke-width="0.8"/>
<line x1="40.6" y1="361.74" x2="42.2" y2="361.74" stroke="#111" stroke-width="0.8"/>
<line x1="40.6" y1="358.6" x2="42.2" y2="358.6" stroke="#111" stroke-width="0.8"/>
<line x1="43.51" y1="408.8" x2="43.51" y2="411.3" stroke="#111" stroke-width="1.1"/>
<line x1="53.52" y1="408.8" x2="53.52" y2="411.3" stroke="#111" stroke-width="1.1"/>
<line x1="62.14" y1="408.8" x2="62.14" y2="411.3" stroke="#111" stroke-width="1.1"/>
<line x1="76.98" y1="408.8" x2="76.98" y2="411.3" stroke="#111" stroke-width="1.1"/>
<line x1="88.95" y1="408.8" x2="88.95" y2="411.3" stroke="#111" stroke-width="1.1"/>
<line x1="44.34" y1="408.8" x2="44.34" y2="410.4" stroke="#111" stroke-width="0.7"/>
<line x1="46.31" y1="408.8" x2="46.31" y2="410.4" stroke="#111" stroke-width="0.7"/>
<line x1="48.29" y1="408.8" x2="48.29" y2="410.4" stroke="#111" stroke-width="0.7"/>
<line x1="50.26" y1="408.8" x2="50.26" y2="410.4" stroke="#111" stroke-width="0.7"/>
<line x1="52.24" y1="408.8" x2="52.24" y2="410.4" stroke="#111" stroke-width="0.7"/>
<line x1="54.22" y1="408.8" x2="54.22" y2="410.4" stroke="#111" stroke-width="0.7"/>
<line x1="56.19" y1="408.8" x2="56.19" y2="410.4" stroke="#111" stroke-width="0.7"/>
<line x1="58.17" y1="408.8" x2="58.17" y2="410.4" stroke="#111" stroke-width="0.7"/>
<line x1="60.14" y1="408.8" x2="60.14" y2="410.4" stroke="#111" stroke-width="0.7"/>
<line x1="62.12" y1="408.8" x2="62.12" y2="410.4" stroke="#111" stroke-width="0.7"/>
<line x1="64.09" y1="408.8" x2="64.09" y2="410.4" stroke="#111" stroke-width="0.7"/>
<line x1="66.07" y1="408.8" x2="66.07" y2="410.4" stroke="#111" stroke-width="0.7"/>
<line x1="68.05" y1="408.8" x2="68.05" y2="410.4" stroke="#111" stroke-width="0.7"/>
<line x1="70.02" y1="408.8" x2="70.02" y2="410.4" stroke="#111" stroke-width="0.7"/>
<line x1="72" y1="408.8" x2="72" y2="410.4" stroke="#111" stroke-width="0.7"/>
<line x1="73.97" y1="408.8" x2="73.97" y2="410.4" stroke="#111" stroke-width="0.7"/>
<line x1="75.95" y1="408.8" x2="75.95" y2="410.4" stroke="#111" stroke-width="0.7"/>
<line x1="77.92" y1="408.8" x2="77.92" y2="410.4" stroke="#111" stroke-width="0.7"/>
<line x1="79.9" y1="408.8" x2="79.9" y2="410.4" stroke="#111" stroke-width="0.7"/>
<line x1="81.88" y1="408.8" x2="81.88" y2="410.4" stroke="#111" stroke-width="0.7"/>
<line x1="83.85" y1="408.8" x2="83.85" y2="410.4" stroke="#111" stroke-width="0.7"/>
<line x1="85.83" y1="408.8" x2="85.83" y2="410.4" stroke="#111" stroke-width="0.7"/>
<line x1="87.8" y1="408.8" x2="87.8" y2="410.4" stroke="#111" stroke-width="0.7"/>
<line x1="89.78" y1="408.8" x2="89.78" y2="410.4" stroke="#111" stroke-width="0.7"/>
<line x1="91.76" y1="408.8" x2="91.76" y2="410.4" stroke="#111" stroke-width="0.7"/>
<line x1="93.73" y1="408.8" x2="93.73" y2="410.4" stroke="#111" stroke-width="0.7"/>
<rect x="53.15" y="408.8" width="2.67" height="1.88" fill="#111"/>
<text transform="translate(43.11,421.8) scale(0.82,1)" x="0" y="0" font-size="7" text-anchor="middle" stroke="#1a1a1a" stroke-width="0.25">-10<tspan dy="-2.52" font-size="4.76">3</tspan></text>
<text transform="translate(53.52,421.8) scale(0.82,1)" x="0" y="0" font-size="7" text-anchor="middle" stroke="#1a1a1a" stroke-width="0.25">0</text>
<text transform="translate(63.24,421.8) scale(0.82,1)" x="0" y="0" font-size="7" text-anchor="middle" stroke="#1a1a1a" stroke-width="0.25">10<tspan dy="-2.52" font-size="4.76">3</tspan></text>
<text transform="translate(78.08,421.8) scale(0.82,1)" x="0" y="0" font-size="7" text-anchor="middle" stroke="#1a1a1a" stroke-width="0.25">10<tspan dy="-2.52" font-size="4.76">4</tspan></text>
<text transform="translate(90.05,421.8) scale(0.82,1)" x="0" y="0" font-size="7" text-anchor="middle" stroke="#1a1a1a" stroke-width="0.25">10<tspan dy="-2.52" font-size="4.76">5</tspan></text>
<line x1="42.2" y1="388.3" x2="67.9" y2="388.3" stroke="#111" stroke-width="1.25"/>
<line x1="67.9" y1="391" x2="95.6" y2="391" stroke="#111" stroke-width="1.25"/>
<line x1="67.9" y1="386.3" x2="67.9" y2="393" stroke="#111" stroke-width="1.25"/>
<text x="56.7" y="365.9" font-size="8.3" text-anchor="start" textLength="22.1" lengthAdjust="spacingAndGlyphs" fill="#333" stroke="#333" stroke-width="0.2">83.8%</text>
<text x="71.8" y="388.4" font-size="8.3" text-anchor="start" textLength="20.6" lengthAdjust="spacingAndGlyphs" fill="#333" stroke="#333" stroke-width="0.2">16.2%</text>
<text x="69.1" y="352.5" font-size="6.5" text-anchor="middle" font-weight="bold" textLength="44.25" lengthAdjust="spacingAndGlyphs" stroke="#1a1a1a" stroke-width="0">CD44+CD62L-</text>
<path d="M129.6,408.8 L130.25,398.26 L130.9,387.4 L131.45,376.18 L132,367 L132.4,364 L133,367 L133.5,374 L134.05,386.22 L134.6,396.4 L135.23,401.41 L135.87,404.91 L136.5,406.4 L137,406.62 L137.5,406.8 L138,406.95 L138.5,407.07 L139,407.17 L139.5,407.24 L140,407.31 L140.5,407.37 L141,407.43 L141.5,407.5 L142.02,407.58 L142.55,407.65 L143.07,407.73 L143.59,407.8 L144.12,407.87 L144.64,407.95 L145.16,408.01 L145.69,408.08 L146.21,408.14 L146.74,408.2 L147.26,408.25 L147.78,408.29 L148.31,408.33 L148.83,408.36 L149.35,408.38 L149.88,408.4 L150.4,408.4 L150.92,408.39 L151.43,408.35 L151.95,408.3 L152.47,408.21 L152.98,408.1 L153.5,407.95 L154.02,407.78 L154.53,407.58 L155.05,407.34 L155.57,407.06 L156.08,406.75 L156.6,406.4 L157.15,404.82 L157.7,401.47 L158.25,397.23 L158.8,393 L159.4,387.41 L160,383 L160.5,381.9 L161,383 L161.6,385.8 L162.2,389.7 L162.73,394.31 L163.27,399.53 L163.8,403 L164.35,404.66 L164.9,405.94 L165.45,406.87 L166,407.5 L166.57,407.93 L167.15,408.24 L167.73,408.51 L168.3,408.8" fill="none" stroke="#961a40" stroke-width="1.5" stroke-linejoin="round"/>
<rect x="119.2" y="355.4" width="53.7" height="53.4" fill="none" stroke="#000" stroke-width="1.35"/>
<line x1="115.9" y1="357.6" x2="119.2" y2="357.6" stroke="#111" stroke-width="1.1"/>
<text x="113.4" y="359.94" font-size="6.6" text-anchor="end" stroke="#1a1a1a" stroke-width="0.21">150</text>
<line x1="115.9" y1="375.1" x2="119.2" y2="375.1" stroke="#111" stroke-width="1.1"/>
<text x="113.4" y="377.44" font-size="6.6" text-anchor="end" stroke="#1a1a1a" stroke-width="0.21">100</text>
<line x1="115.9" y1="392" x2="119.2" y2="392" stroke="#111" stroke-width="1.1"/>
<text x="113.4" y="394.34" font-size="6.6" text-anchor="end" stroke="#1a1a1a" stroke-width="0.21">50</text>
<line x1="115.9" y1="408.8" x2="119.2" y2="408.8" stroke="#111" stroke-width="1.1"/>
<text x="113.4" y="411.14" font-size="6.6" text-anchor="end" stroke="#1a1a1a" stroke-width="0.21">0</text>
<line x1="117.6" y1="408.8" x2="119.2" y2="408.8" stroke="#111" stroke-width="0.8"/>
<line x1="117.6" y1="404.6" x2="119.2" y2="404.6" stroke="#111" stroke-width="0.8"/>
<line x1="117.6" y1="400.4" x2="119.2" y2="400.4" stroke="#111" stroke-width="0.8"/>
<line x1="117.6" y1="396.2" x2="119.2" y2="396.2" stroke="#111" stroke-width="0.8"/>
<line x1="117.6" y1="392" x2="119.2" y2="392" stroke="#111" stroke-width="0.8"/>
<line x1="117.6" y1="387.8" x2="119.2" y2="387.8" stroke="#111" stroke-width="0.8"/>
<line x1="117.6" y1="383.6" x2="119.2" y2="383.6" stroke="#111" stroke-width="0.8"/>
<line x1="117.6" y1="379.4" x2="119.2" y2="379.4" stroke="#111" stroke-width="0.8"/>
<line x1="117.6" y1="375.2" x2="119.2" y2="375.2" stroke="#111" stroke-width="0.8"/>
<line x1="117.6" y1="371" x2="119.2" y2="371" stroke="#111" stroke-width="0.8"/>
<line x1="117.6" y1="366.8" x2="119.2" y2="366.8" stroke="#111" stroke-width="0.8"/>
<line x1="117.6" y1="362.6" x2="119.2" y2="362.6" stroke="#111" stroke-width="0.8"/>
<line x1="117.6" y1="358.4" x2="119.2" y2="358.4" stroke="#111" stroke-width="0.8"/>
<line x1="120.51" y1="408.8" x2="120.51" y2="411.3" stroke="#111" stroke-width="1.1"/>
<line x1="130.58" y1="408.8" x2="130.58" y2="411.3" stroke="#111" stroke-width="1.1"/>
<line x1="139.26" y1="408.8" x2="139.26" y2="411.3" stroke="#111" stroke-width="1.1"/>
<line x1="154.19" y1="408.8" x2="154.19" y2="411.3" stroke="#111" stroke-width="1.1"/>
<line x1="166.22" y1="408.8" x2="166.22" y2="411.3" stroke="#111" stroke-width="1.1"/>
<line x1="121.35" y1="408.8" x2="121.35" y2="410.4" stroke="#111" stroke-width="0.7"/>
<line x1="123.33" y1="408.8" x2="123.33" y2="410.4" stroke="#111" stroke-width="0.7"/>
<line x1="125.32" y1="408.8" x2="125.32" y2="410.4" stroke="#111" stroke-width="0.7"/>
<line x1="127.31" y1="408.8" x2="127.31" y2="410.4" stroke="#111" stroke-width="0.7"/>
<line x1="129.3" y1="408.8" x2="129.3" y2="410.4" stroke="#111" stroke-width="0.7"/>
<line x1="131.28" y1="408.8" x2="131.28" y2="410.4" stroke="#111" stroke-width="0.7"/>
<line x1="133.27" y1="408.8" x2="133.27" y2="410.4" stroke="#111" stroke-width="0.7"/>
<line x1="135.26" y1="408.8" x2="135.26" y2="410.4" stroke="#111" stroke-width="0.7"/>
<line x1="137.24" y1="408.8" x2="137.24" y2="410.4" stroke="#111" stroke-width="0.7"/>
<line x1="139.23" y1="408.8" x2="139.23" y2="410.4" stroke="#111" stroke-width="0.7"/>
<line x1="141.22" y1="408.8" x2="141.22" y2="410.4" stroke="#111" stroke-width="0.7"/>
<line x1="143.2" y1="408.8" x2="143.2" y2="410.4" stroke="#111" stroke-width="0.7"/>
<line x1="145.19" y1="408.8" x2="145.19" y2="410.4" stroke="#111" stroke-width="0.7"/>
<line x1="147.18" y1="408.8" x2="147.18" y2="410.4" stroke="#111" stroke-width="0.7"/>
<line x1="149.16" y1="408.8" x2="149.16" y2="410.4" stroke="#111" stroke-width="0.7"/>
<line x1="151.15" y1="408.8" x2="151.15" y2="410.4" stroke="#111" stroke-width="0.7"/>
<line x1="153.14" y1="408.8" x2="153.14" y2="410.4" stroke="#111" stroke-width="0.7"/>
<line x1="155.13" y1="408.8" x2="155.13" y2="410.4" stroke="#111" stroke-width="0.7"/>
<line x1="157.11" y1="408.8" x2="157.11" y2="410.4" stroke="#111" stroke-width="0.7"/>
<line x1="159.1" y1="408.8" x2="159.1" y2="410.4" stroke="#111" stroke-width="0.7"/>
<line x1="161.09" y1="408.8" x2="161.09" y2="410.4" stroke="#111" stroke-width="0.7"/>
<line x1="163.07" y1="408.8" x2="163.07" y2="410.4" stroke="#111" stroke-width="0.7"/>
<line x1="165.06" y1="408.8" x2="165.06" y2="410.4" stroke="#111" stroke-width="0.7"/>
<line x1="167.05" y1="408.8" x2="167.05" y2="410.4" stroke="#111" stroke-width="0.7"/>
<line x1="169.03" y1="408.8" x2="169.03" y2="410.4" stroke="#111" stroke-width="0.7"/>
<line x1="171.02" y1="408.8" x2="171.02" y2="410.4" stroke="#111" stroke-width="0.7"/>
<rect x="130.21" y="408.8" width="2.69" height="1.88" fill="#111"/>
<text transform="translate(120.11,421.8) scale(0.82,1)" x="0" y="0" font-size="7" text-anchor="middle" stroke="#1a1a1a" stroke-width="0.25">-10<tspan dy="-2.52" font-size="4.76">3</tspan></text>
<text transform="translate(130.58,421.8) scale(0.82,1)" x="0" y="0" font-size="7" text-anchor="middle" stroke="#1a1a1a" stroke-width="0.25">0</text>
<text transform="translate(140.36,421.8) scale(0.82,1)" x="0" y="0" font-size="7" text-anchor="middle" stroke="#1a1a1a" stroke-width="0.25">10<tspan dy="-2.52" font-size="4.76">3</tspan></text>
<text transform="translate(155.29,421.8) scale(0.82,1)" x="0" y="0" font-size="7" text-anchor="middle" stroke="#1a1a1a" stroke-width="0.25">10<tspan dy="-2.52" font-size="4.76">4</tspan></text>
<text transform="translate(167.32,421.8) scale(0.82,1)" x="0" y="0" font-size="7" text-anchor="middle" stroke="#1a1a1a" stroke-width="0.25">10<tspan dy="-2.52" font-size="4.76">5</tspan></text>
<line x1="119.2" y1="402.2" x2="146.2" y2="402.2" stroke="#111" stroke-width="1.25"/>
<line x1="146.2" y1="404.7" x2="172.9" y2="404.7" stroke="#111" stroke-width="1.25"/>
<line x1="146.2" y1="400.2" x2="146.2" y2="406.7" stroke="#111" stroke-width="1.25"/>
<text x="133.2" y="365.1" font-size="8.3" text-anchor="start" textLength="22.6" lengthAdjust="spacingAndGlyphs" fill="#333" stroke="#333" stroke-width="0.2">53.4%</text>
<text x="150" y="377.8" font-size="8.3" text-anchor="start" textLength="22.3" lengthAdjust="spacingAndGlyphs" fill="#333" stroke="#333" stroke-width="0.2">46.6%</text>
<text x="146.6" y="351.9" font-size="6.5" text-anchor="middle" font-weight="bold" textLength="45.2" lengthAdjust="spacingAndGlyphs" stroke="#1a1a1a" stroke-width="0">CD44+CD62L+</text>
<path d="M205.2,408.8 L205.73,404.76 L206.27,400.73 L206.8,396.4 L207.4,390.05 L208,385 L208.5,383.5 L209,385 L209.8,394.1 L210.5,401.05 L211.2,405.3 L211.72,406.15 L212.23,406.85 L212.75,407.39 L213.27,407.77 L213.78,408.01 L214.3,408.1 L214.8,408.12 L215.3,408.13 L215.8,408.15 L216.3,408.16 L216.8,408.17 L217.3,408.19 L217.8,408.2 L218.3,408.21 L218.8,408.22 L219.3,408.23 L219.8,408.24 L220.3,408.25 L220.8,408.25 L221.3,408.26 L221.8,408.27 L222.3,408.27 L222.8,408.28 L223.3,408.28 L223.8,408.28 L224.3,408.29 L224.8,408.29 L225.3,408.29 L225.8,408.29 L226.3,408.3 L226.8,408.3 L227.3,408.3 L227.8,408.3 L228.3,408.3 L228.8,408.3 L229.3,408.28 L229.8,408.22 L230.3,408.13 L230.8,408.02 L231.3,407.9 L231.8,407.78 L232.3,407.67 L232.8,407.58 L233.3,407.52 L233.8,407.5 L234.3,407.53 L234.8,407.6 L235.3,407.71 L235.8,407.84 L236.3,407.99 L236.8,408.15 L237.3,408.29 L237.8,408.43 L238.3,408.53 L238.8,408.6 L239.33,408.64 L239.87,408.68 L240.4,408.71 L240.93,408.74 L241.47,408.77 L242,408.8" fill="none" stroke="#961a40" stroke-width="1.5" stroke-linejoin="round"/>
<rect x="195.1" y="356" width="52.8" height="52.8" fill="none" stroke="#000" stroke-width="1.35"/>
<line x1="191.8" y1="356.3" x2="195.1" y2="356.3" stroke="#111" stroke-width="1.1"/>
<text x="189.3" y="358.64" font-size="6.6" text-anchor="end" stroke="#1a1a1a" stroke-width="0.21">20</text>
<line x1="191.8" y1="370.1" x2="195.1" y2="370.1" stroke="#111" stroke-width="1.1"/>
<text x="189.3" y="372.44" font-size="6.6" text-anchor="end" stroke="#1a1a1a" stroke-width="0.21">15</text>
<line x1="191.8" y1="382.9" x2="195.1" y2="382.9" stroke="#111" stroke-width="1.1"/>
<text x="189.3" y="385.24" font-size="6.6" text-anchor="end" stroke="#1a1a1a" stroke-width="0.21">10</text>
<line x1="191.8" y1="395.9" x2="195.1" y2="395.9" stroke="#111" stroke-width="1.1"/>
<text x="189.3" y="398.24" font-size="6.6" text-anchor="end" stroke="#1a1a1a" stroke-width="0.21">5.0</text>
<line x1="191.8" y1="408.8" x2="195.1" y2="408.8" stroke="#111" stroke-width="1.1"/>
<text x="189.3" y="411.14" font-size="6.6" text-anchor="end" stroke="#1a1a1a" stroke-width="0.21">0</text>
<line x1="193.5" y1="408.8" x2="195.1" y2="408.8" stroke="#111" stroke-width="0.8"/>
<line x1="193.5" y1="405.57" x2="195.1" y2="405.57" stroke="#111" stroke-width="0.8"/>
<line x1="193.5" y1="402.35" x2="195.1" y2="402.35" stroke="#111" stroke-width="0.8"/>
<line x1="193.5" y1="399.12" x2="195.1" y2="399.12" stroke="#111" stroke-width="0.8"/>
<line x1="193.5" y1="395.9" x2="195.1" y2="395.9" stroke="#111" stroke-width="0.8"/>
<line x1="193.5" y1="392.67" x2="195.1" y2="392.67" stroke="#111" stroke-width="0.8"/>
<line x1="193.5" y1="389.45" x2="195.1" y2="389.45" stroke="#111" stroke-width="0.8"/>
<line x1="193.5" y1="386.22" x2="195.1" y2="386.22" stroke="#111" stroke-width="0.8"/>
<line x1="193.5" y1="383" x2="195.1" y2="383" stroke="#111" stroke-width="0.8"/>
<line x1="193.5" y1="379.77" x2="195.1" y2="379.77" stroke="#111" stroke-width="0.8"/>
<line x1="193.5" y1="376.55" x2="195.1" y2="376.55" stroke="#111" stroke-width="0.8"/>
<line x1="193.5" y1="373.32" x2="195.1" y2="373.32" stroke="#111" stroke-width="0.8"/>
<line x1="193.5" y1="370.1" x2="195.1" y2="370.1" stroke="#111" stroke-width="0.8"/>
<line x1="193.5" y1="366.87" x2="195.1" y2="366.87" stroke="#111" stroke-width="0.8"/>
<line x1="193.5" y1="363.65" x2="195.1" y2="363.65" stroke="#111" stroke-width="0.8"/>
<line x1="193.5" y1="360.42" x2="195.1" y2="360.42" stroke="#111" stroke-width="0.8"/>
<line x1="193.5" y1="357.2" x2="195.1" y2="357.2" stroke="#111" stroke-width="0.8"/>
<line x1="196.4" y1="408.8" x2="196.4" y2="411.3" stroke="#111" stroke-width="1.1"/>
<line x1="206.29" y1="408.8" x2="206.29" y2="411.3" stroke="#111" stroke-width="1.1"/>
<line x1="214.8" y1="408.8" x2="214.8" y2="411.3" stroke="#111" stroke-width="1.1"/>
<line x1="229.48" y1="408.8" x2="229.48" y2="411.3" stroke="#111" stroke-width="1.1"/>
<line x1="241.31" y1="408.8" x2="241.31" y2="411.3" stroke="#111" stroke-width="1.1"/>
<line x1="197.21" y1="408.8" x2="197.21" y2="410.4" stroke="#111" stroke-width="0.7"/>
<line x1="199.17" y1="408.8" x2="199.17" y2="410.4" stroke="#111" stroke-width="0.7"/>
<line x1="201.12" y1="408.8" x2="201.12" y2="410.4" stroke="#111" stroke-width="0.7"/>
<line x1="203.07" y1="408.8" x2="203.07" y2="410.4" stroke="#111" stroke-width="0.7"/>
<line x1="205.03" y1="408.8" x2="205.03" y2="410.4" stroke="#111" stroke-width="0.7"/>
<line x1="206.98" y1="408.8" x2="206.98" y2="410.4" stroke="#111" stroke-width="0.7"/>
<line x1="208.93" y1="408.8" x2="208.93" y2="410.4" stroke="#111" stroke-width="0.7"/>
<line x1="210.89" y1="408.8" x2="210.89" y2="410.4" stroke="#111" stroke-width="0.7"/>
<line x1="212.84" y1="408.8" x2="212.84" y2="410.4" stroke="#111" stroke-width="0.7"/>
<line x1="214.79" y1="408.8" x2="214.79" y2="410.4" stroke="#111" stroke-width="0.7"/>
<line x1="216.75" y1="408.8" x2="216.75" y2="410.4" stroke="#111" stroke-width="0.7"/>
<line x1="218.7" y1="408.8" x2="218.7" y2="410.4" stroke="#111" stroke-width="0.7"/>
<line x1="220.66" y1="408.8" x2="220.66" y2="410.4" stroke="#111" stroke-width="0.7"/>
<line x1="222.61" y1="408.8" x2="222.61" y2="410.4" stroke="#111" stroke-width="0.7"/>
<line x1="224.56" y1="408.8" x2="224.56" y2="410.4" stroke="#111" stroke-width="0.7"/>
<line x1="226.52" y1="408.8" x2="226.52" y2="410.4" stroke="#111" stroke-width="0.7"/>
<line x1="228.47" y1="408.8" x2="228.47" y2="410.4" stroke="#111" stroke-width="0.7"/>
<line x1="230.42" y1="408.8" x2="230.42" y2="410.4" stroke="#111" stroke-width="0.7"/>
<line x1="232.38" y1="408.8" x2="232.38" y2="410.4" stroke="#111" stroke-width="0.7"/>
<line x1="234.33" y1="408.8" x2="234.33" y2="410.4" stroke="#111" stroke-width="0.7"/>
<line x1="236.28" y1="408.8" x2="236.28" y2="410.4" stroke="#111" stroke-width="0.7"/>
<line x1="238.24" y1="408.8" x2="238.24" y2="410.4" stroke="#111" stroke-width="0.7"/>
<line x1="240.19" y1="408.8" x2="240.19" y2="410.4" stroke="#111" stroke-width="0.7"/>
<line x1="242.14" y1="408.8" x2="242.14" y2="410.4" stroke="#111" stroke-width="0.7"/>
<line x1="244.1" y1="408.8" x2="244.1" y2="410.4" stroke="#111" stroke-width="0.7"/>
<line x1="246.05" y1="408.8" x2="246.05" y2="410.4" stroke="#111" stroke-width="0.7"/>
<rect x="205.92" y="408.8" width="2.64" height="1.88" fill="#111"/>
<text transform="translate(196,421.8) scale(0.82,1)" x="0" y="0" font-size="7" text-anchor="middle" stroke="#1a1a1a" stroke-width="0.25">-10<tspan dy="-2.52" font-size="4.76">3</tspan></text>
<text transform="translate(206.29,421.8) scale(0.82,1)" x="0" y="0" font-size="7" text-anchor="middle" stroke="#1a1a1a" stroke-width="0.25">0</text>
<text transform="translate(215.9,421.8) scale(0.82,1)" x="0" y="0" font-size="7" text-anchor="middle" stroke="#1a1a1a" stroke-width="0.25">10<tspan dy="-2.52" font-size="4.76">3</tspan></text>
<text transform="translate(230.58,421.8) scale(0.82,1)" x="0" y="0" font-size="7" text-anchor="middle" stroke="#1a1a1a" stroke-width="0.25">10<tspan dy="-2.52" font-size="4.76">4</tspan></text>
<text transform="translate(242.41,421.8) scale(0.82,1)" x="0" y="0" font-size="7" text-anchor="middle" stroke="#1a1a1a" stroke-width="0.25">10<tspan dy="-2.52" font-size="4.76">5</tspan></text>
<line x1="195.1" y1="401.4" x2="221.5" y2="401.4" stroke="#111" stroke-width="1.25"/>
<line x1="221.5" y1="404" x2="247.9" y2="404" stroke="#111" stroke-width="1.25"/>
<line x1="221.5" y1="399.4" x2="221.5" y2="406" stroke="#111" stroke-width="1.25"/>
<text x="201.1" y="379.4" font-size="8.3" text-anchor="start" textLength="21.5" lengthAdjust="spacingAndGlyphs" fill="#333" stroke="#333" stroke-width="0.2">89.2%</text>
<text x="223.6" y="401" font-size="8.3" text-anchor="start" textLength="21" lengthAdjust="spacingAndGlyphs" fill="#333" stroke="#333" stroke-width="0.2">10.8%</text>
<text x="222.6" y="352.6" font-size="6.5" text-anchor="middle" font-weight="bold" textLength="44.8" lengthAdjust="spacingAndGlyphs" stroke="#1a1a1a" stroke-width="0">CD44+CD62L-</text>
<path d="M278.6,408.8 L279.17,403.87 L279.73,398.93 L280.3,393 L280.95,382.05 L281.6,372 L282.2,367.9 L282.8,371 L283.3,375.8 L283.8,381.9 L284.5,392.5 L285.2,400.8 L285.7,403.33 L286.2,405.36 L286.7,406.74 L287.2,407.3 L287.7,407.39 L288.21,407.47 L288.71,407.55 L289.22,407.61 L289.72,407.68 L290.23,407.74 L290.73,407.79 L291.24,407.84 L291.74,407.88 L292.25,407.92 L292.75,407.95 L293.25,407.98 L293.76,408.01 L294.26,408.03 L294.77,408.05 L295.27,408.06 L295.78,408.08 L296.28,408.08 L296.79,408.09 L297.29,408.1 L297.8,408.1 L298.3,408.1 L298.8,407.99 L299.3,407.69 L299.8,407.22 L300.3,406.59 L300.8,405.83 L301.3,404.96 L301.8,404 L302.3,402.97 L302.8,401.9 L303.35,400.22 L303.9,397.89 L304.45,395.33 L305,393 L305.63,390.2 L306.27,387.51 L306.9,386.3 L307.4,387.24 L307.9,389.54 L308.4,392.45 L308.9,395.2 L309.47,398.49 L310.03,401.96 L310.6,404.2 L311.15,405.26 L311.7,406.15 L312.25,406.89 L312.8,407.46 L313.35,407.86 L313.9,408.1 L314.4,408.23 L314.9,408.33 L315.4,408.42 L315.9,408.49 L316.4,408.55 L316.9,408.61 L317.4,408.67 L317.9,408.73 L318.4,408.8" fill="none" stroke="#961a40" stroke-width="1.5" stroke-linejoin="round"/>
<rect x="268.7" y="356" width="53.5" height="52.8" fill="none" stroke="#000" stroke-width="1.35"/>
<line x1="265.4" y1="365.4" x2="268.7" y2="365.4" stroke="#111" stroke-width="1.1"/>
<text x="262.9" y="367.74" font-size="6.6" text-anchor="end" stroke="#1a1a1a" stroke-width="0.21">60</text>
<line x1="265.4" y1="380.2" x2="268.7" y2="380.2" stroke="#111" stroke-width="1.1"/>
<text x="262.9" y="382.54" font-size="6.6" text-anchor="end" stroke="#1a1a1a" stroke-width="0.21">40</text>
<line x1="265.4" y1="394.75" x2="268.7" y2="394.75" stroke="#111" stroke-width="1.1"/>
<text x="262.9" y="397.09" font-size="6.6" text-anchor="end" stroke="#1a1a1a" stroke-width="0.21">20</text>
<line x1="265.4" y1="408.8" x2="268.7" y2="408.8" stroke="#111" stroke-width="1.1"/>
<text x="262.9" y="411.14" font-size="6.6" text-anchor="end" stroke="#1a1a1a" stroke-width="0.21">0</text>
<line x1="267.1" y1="408.8" x2="268.7" y2="408.8" stroke="#111" stroke-width="0.8"/>
<line x1="267.1" y1="405.29" x2="268.7" y2="405.29" stroke="#111" stroke-width="0.8"/>
<line x1="267.1" y1="401.78" x2="268.7" y2="401.78" stroke="#111" stroke-width="0.8"/>
<line x1="267.1" y1="398.26" x2="268.7" y2="398.26" stroke="#111" stroke-width="0.8"/>
<line x1="267.1" y1="394.75" x2="268.7" y2="394.75" stroke="#111" stroke-width="0.8"/>
<line x1="267.1" y1="391.24" x2="268.7" y2="391.24" stroke="#111" stroke-width="0.8"/>
<line x1="267.1" y1="387.73" x2="268.7" y2="387.73" stroke="#111" stroke-width="0.8"/>
<line x1="267.1" y1="384.21" x2="268.7" y2="384.21" stroke="#111" stroke-width="0.8"/>
<line x1="267.1" y1="380.7" x2="268.7" y2="380.7" stroke="#111" stroke-width="0.8"/>
<line x1="267.1" y1="377.19" x2="268.7" y2="377.19" stroke="#111" stroke-width="0.8"/>
<line x1="267.1" y1="373.68" x2="268.7" y2="373.68" stroke="#111" stroke-width="0.8"/>
<line x1="267.1" y1="370.16" x2="268.7" y2="370.16" stroke="#111" stroke-width="0.8"/>
<line x1="267.1" y1="366.65" x2="268.7" y2="366.65" stroke="#111" stroke-width="0.8"/>
<line x1="267.1" y1="363.14" x2="268.7" y2="363.14" stroke="#111" stroke-width="0.8"/>
<line x1="267.1" y1="359.63" x2="268.7" y2="359.63" stroke="#111" stroke-width="0.8"/>
<line x1="270.01" y1="408.8" x2="270.01" y2="411.3" stroke="#111" stroke-width="1.1"/>
<line x1="280.04" y1="408.8" x2="280.04" y2="411.3" stroke="#111" stroke-width="1.1"/>
<line x1="288.68" y1="408.8" x2="288.68" y2="411.3" stroke="#111" stroke-width="1.1"/>
<line x1="303.55" y1="408.8" x2="303.55" y2="411.3" stroke="#111" stroke-width="1.1"/>
<line x1="315.54" y1="408.8" x2="315.54" y2="411.3" stroke="#111" stroke-width="1.1"/>
<line x1="270.84" y1="408.8" x2="270.84" y2="410.4" stroke="#111" stroke-width="0.7"/>
<line x1="272.82" y1="408.8" x2="272.82" y2="410.4" stroke="#111" stroke-width="0.7"/>
<line x1="274.8" y1="408.8" x2="274.8" y2="410.4" stroke="#111" stroke-width="0.7"/>
<line x1="276.78" y1="408.8" x2="276.78" y2="410.4" stroke="#111" stroke-width="0.7"/>
<line x1="278.76" y1="408.8" x2="278.76" y2="410.4" stroke="#111" stroke-width="0.7"/>
<line x1="280.74" y1="408.8" x2="280.74" y2="410.4" stroke="#111" stroke-width="0.7"/>
<line x1="282.72" y1="408.8" x2="282.72" y2="410.4" stroke="#111" stroke-width="0.7"/>
<line x1="284.7" y1="408.8" x2="284.7" y2="410.4" stroke="#111" stroke-width="0.7"/>
<line x1="286.68" y1="408.8" x2="286.68" y2="410.4" stroke="#111" stroke-width="0.7"/>
<line x1="288.66" y1="408.8" x2="288.66" y2="410.4" stroke="#111" stroke-width="0.7"/>
<line x1="290.63" y1="408.8" x2="290.63" y2="410.4" stroke="#111" stroke-width="0.7"/>
<line x1="292.61" y1="408.8" x2="292.61" y2="410.4" stroke="#111" stroke-width="0.7"/>
<line x1="294.59" y1="408.8" x2="294.59" y2="410.4" stroke="#111" stroke-width="0.7"/>
<line x1="296.57" y1="408.8" x2="296.57" y2="410.4" stroke="#111" stroke-width="0.7"/>
<line x1="298.55" y1="408.8" x2="298.55" y2="410.4" stroke="#111" stroke-width="0.7"/>
<line x1="300.53" y1="408.8" x2="300.53" y2="410.4" stroke="#111" stroke-width="0.7"/>
<line x1="302.51" y1="408.8" x2="302.51" y2="410.4" stroke="#111" stroke-width="0.7"/>
<line x1="304.49" y1="408.8" x2="304.49" y2="410.4" stroke="#111" stroke-width="0.7"/>
<line x1="306.47" y1="408.8" x2="306.47" y2="410.4" stroke="#111" stroke-width="0.7"/>
<line x1="308.45" y1="408.8" x2="308.45" y2="410.4" stroke="#111" stroke-width="0.7"/>
<line x1="310.43" y1="408.8" x2="310.43" y2="410.4" stroke="#111" stroke-width="0.7"/>
<line x1="312.41" y1="408.8" x2="312.41" y2="410.4" stroke="#111" stroke-width="0.7"/>
<line x1="314.39" y1="408.8" x2="314.39" y2="410.4" stroke="#111" stroke-width="0.7"/>
<line x1="316.37" y1="408.8" x2="316.37" y2="410.4" stroke="#111" stroke-width="0.7"/>
<line x1="318.35" y1="408.8" x2="318.35" y2="410.4" stroke="#111" stroke-width="0.7"/>
<line x1="320.33" y1="408.8" x2="320.33" y2="410.4" stroke="#111" stroke-width="0.7"/>
<rect x="279.67" y="408.8" width="2.68" height="1.88" fill="#111"/>
<text transform="translate(269.61,421.8) scale(0.82,1)" x="0" y="0" font-size="7" text-anchor="middle" stroke="#1a1a1a" stroke-width="0.25">-10<tspan dy="-2.52" font-size="4.76">3</tspan></text>
<text transform="translate(280.04,421.8) scale(0.82,1)" x="0" y="0" font-size="7" text-anchor="middle" stroke="#1a1a1a" stroke-width="0.25">0</text>
<text transform="translate(289.78,421.8) scale(0.82,1)" x="0" y="0" font-size="7" text-anchor="middle" stroke="#1a1a1a" stroke-width="0.25">10<tspan dy="-2.52" font-size="4.76">3</tspan></text>
<text transform="translate(304.65,421.8) scale(0.82,1)" x="0" y="0" font-size="7" text-anchor="middle" stroke="#1a1a1a" stroke-width="0.25">10<tspan dy="-2.52" font-size="4.76">4</tspan></text>
<text transform="translate(316.64,421.8) scale(0.82,1)" x="0" y="0" font-size="7" text-anchor="middle" stroke="#1a1a1a" stroke-width="0.25">10<tspan dy="-2.52" font-size="4.76">5</tspan></text>
<line x1="268.7" y1="399.9" x2="294.8" y2="399.9" stroke="#111" stroke-width="1.25"/>
<line x1="294.8" y1="403" x2="322.2" y2="403" stroke="#111" stroke-width="1.25"/>
<line x1="294.8" y1="397.9" x2="294.8" y2="405" stroke="#111" stroke-width="1.25"/>
<text x="276.3" y="366.3" font-size="8.3" text-anchor="start" textLength="21.5" lengthAdjust="spacingAndGlyphs" fill="#333" stroke="#333" stroke-width="0.2">51.6%</text>
<text x="296.3" y="383.2" font-size="8.3" text-anchor="start" textLength="21.5" lengthAdjust="spacingAndGlyphs" fill="#333" stroke="#333" stroke-width="0.2">48.4%</text>
<text x="297" y="352.6" font-size="6.5" text-anchor="middle" font-weight="bold" textLength="47.5" lengthAdjust="spacingAndGlyphs" stroke="#1a1a1a" stroke-width="0">CD44+CD62L+</text>
<path d="M51.8,494.8 L52.5,487.74 L53.2,479 L53.7,465.91 L54.2,453 L54.7,447.2 L55.2,452 L55.8,462.3 L56.35,475.17 L56.9,484.6 L57.4,487.22 L57.9,488.96 L58.4,489.6 L58.95,489.43 L59.5,489.05 L60.05,488.67 L60.6,488.5 L61.17,488.65 L61.75,489.03 L62.33,489.58 L62.9,490.2 L63.43,491.26 L63.97,492.61 L64.5,493.3 L65.02,493.34 L65.53,493.37 L66.05,493.39 L66.56,493.42 L67.08,493.44 L67.59,493.45 L68.11,493.47 L68.62,493.48 L69.14,493.49 L69.65,493.49 L70.17,493.5 L70.68,493.5 L71.2,493.5 L71.72,493.49 L72.23,493.48 L72.75,493.45 L73.26,493.4 L73.78,493.35 L74.29,493.28 L74.81,493.19 L75.32,493.1 L75.84,492.99 L76.35,492.86 L76.87,492.72 L77.38,492.57 L77.9,492.4 L78.46,491.83 L79.02,490.71 L79.58,489.3 L80.14,487.91 L80.7,486.8 L81.27,485.84 L81.83,484.98 L82.4,484.6 L82.95,485.06 L83.5,486.11 L84.05,487.25 L84.6,488 L85.15,488.31 L85.7,488.51 L86.25,488.72 L86.8,489 L87.36,489.5 L87.92,490.19 L88.48,490.97 L89.04,491.74 L89.6,492.4 L90.16,492.93 L90.72,493.42 L91.28,493.88 L91.84,494.33 L92.4,494.8" fill="none" stroke="#961a40" stroke-width="1.5" stroke-linejoin="round"/>
<rect x="41.8" y="441.4" width="53.5" height="53.4" fill="none" stroke="#000" stroke-width="1.35"/>
<line x1="38.5" y1="445.4" x2="41.8" y2="445.4" stroke="#111" stroke-width="1.1"/>
<text x="36" y="447.74" font-size="6.6" text-anchor="end" stroke="#1a1a1a" stroke-width="0.21">60</text>
<line x1="38.5" y1="461.9" x2="41.8" y2="461.9" stroke="#111" stroke-width="1.1"/>
<text x="36" y="464.24" font-size="6.6" text-anchor="end" stroke="#1a1a1a" stroke-width="0.21">40</text>
<line x1="38.5" y1="478.5" x2="41.8" y2="478.5" stroke="#111" stroke-width="1.1"/>
<text x="36" y="480.84" font-size="6.6" text-anchor="end" stroke="#1a1a1a" stroke-width="0.21">20</text>
<line x1="38.5" y1="494.8" x2="41.8" y2="494.8" stroke="#111" stroke-width="1.1"/>
<text x="36" y="497.14" font-size="6.6" text-anchor="end" stroke="#1a1a1a" stroke-width="0.21">0</text>
<line x1="40.2" y1="494.8" x2="41.8" y2="494.8" stroke="#111" stroke-width="0.8"/>
<line x1="40.2" y1="490.73" x2="41.8" y2="490.73" stroke="#111" stroke-width="0.8"/>
<line x1="40.2" y1="486.65" x2="41.8" y2="486.65" stroke="#111" stroke-width="0.8"/>
<line x1="40.2" y1="482.58" x2="41.8" y2="482.58" stroke="#111" stroke-width="0.8"/>
<line x1="40.2" y1="478.5" x2="41.8" y2="478.5" stroke="#111" stroke-width="0.8"/>
<line x1="40.2" y1="474.43" x2="41.8" y2="474.43" stroke="#111" stroke-width="0.8"/>
<line x1="40.2" y1="470.35" x2="41.8" y2="470.35" stroke="#111" stroke-width="0.8"/>
<line x1="40.2" y1="466.28" x2="41.8" y2="466.28" stroke="#111" stroke-width="0.8"/>
<line x1="40.2" y1="462.2" x2="41.8" y2="462.2" stroke="#111" stroke-width="0.8"/>
<line x1="40.2" y1="458.13" x2="41.8" y2="458.13" stroke="#111" stroke-width="0.8"/>
<line x1="40.2" y1="454.05" x2="41.8" y2="454.05" stroke="#111" stroke-width="0.8"/>
<line x1="40.2" y1="449.98" x2="41.8" y2="449.98" stroke="#111" stroke-width="0.8"/>
<line x1="40.2" y1="445.9" x2="41.8" y2="445.9" stroke="#111" stroke-width="0.8"/>
<line x1="43.11" y1="494.8" x2="43.11" y2="497.3" stroke="#111" stroke-width="1.1"/>
<line x1="53.14" y1="494.8" x2="53.14" y2="497.3" stroke="#111" stroke-width="1.1"/>
<line x1="61.78" y1="494.8" x2="61.78" y2="497.3" stroke="#111" stroke-width="1.1"/>
<line x1="76.65" y1="494.8" x2="76.65" y2="497.3" stroke="#111" stroke-width="1.1"/>
<line x1="88.64" y1="494.8" x2="88.64" y2="497.3" stroke="#111" stroke-width="1.1"/>
<line x1="43.94" y1="494.8" x2="43.94" y2="496.4" stroke="#111" stroke-width="0.7"/>
<line x1="45.92" y1="494.8" x2="45.92" y2="496.4" stroke="#111" stroke-width="0.7"/>
<line x1="47.9" y1="494.8" x2="47.9" y2="496.4" stroke="#111" stroke-width="0.7"/>
<line x1="49.88" y1="494.8" x2="49.88" y2="496.4" stroke="#111" stroke-width="0.7"/>
<line x1="51.86" y1="494.8" x2="51.86" y2="496.4" stroke="#111" stroke-width="0.7"/>
<line x1="53.84" y1="494.8" x2="53.84" y2="496.4" stroke="#111" stroke-width="0.7"/>
<line x1="55.82" y1="494.8" x2="55.82" y2="496.4" stroke="#111" stroke-width="0.7"/>
<line x1="57.8" y1="494.8" x2="57.8" y2="496.4" stroke="#111" stroke-width="0.7"/>
<line x1="59.78" y1="494.8" x2="59.78" y2="496.4" stroke="#111" stroke-width="0.7"/>
<line x1="61.76" y1="494.8" x2="61.76" y2="496.4" stroke="#111" stroke-width="0.7"/>
<line x1="63.73" y1="494.8" x2="63.73" y2="496.4" stroke="#111" stroke-width="0.7"/>
<line x1="65.71" y1="494.8" x2="65.71" y2="496.4" stroke="#111" stroke-width="0.7"/>
<line x1="67.69" y1="494.8" x2="67.69" y2="496.4" stroke="#111" stroke-width="0.7"/>
<line x1="69.67" y1="494.8" x2="69.67" y2="496.4" stroke="#111" stroke-width="0.7"/>
<line x1="71.65" y1="494.8" x2="71.65" y2="496.4" stroke="#111" stroke-width="0.7"/>
<line x1="73.63" y1="494.8" x2="73.63" y2="496.4" stroke="#111" stroke-width="0.7"/>
<line x1="75.61" y1="494.8" x2="75.61" y2="496.4" stroke="#111" stroke-width="0.7"/>
<line x1="77.59" y1="494.8" x2="77.59" y2="496.4" stroke="#111" stroke-width="0.7"/>
<line x1="79.57" y1="494.8" x2="79.57" y2="496.4" stroke="#111" stroke-width="0.7"/>
<line x1="81.55" y1="494.8" x2="81.55" y2="496.4" stroke="#111" stroke-width="0.7"/>
<line x1="83.53" y1="494.8" x2="83.53" y2="496.4" stroke="#111" stroke-width="0.7"/>
<line x1="85.51" y1="494.8" x2="85.51" y2="496.4" stroke="#111" stroke-width="0.7"/>
<line x1="87.49" y1="494.8" x2="87.49" y2="496.4" stroke="#111" stroke-width="0.7"/>
<line x1="89.47" y1="494.8" x2="89.47" y2="496.4" stroke="#111" stroke-width="0.7"/>
<line x1="91.45" y1="494.8" x2="91.45" y2="496.4" stroke="#111" stroke-width="0.7"/>
<line x1="93.43" y1="494.8" x2="93.43" y2="496.4" stroke="#111" stroke-width="0.7"/>
<rect x="52.77" y="494.8" width="2.68" height="1.88" fill="#111"/>
<text transform="translate(42.71,507.8) scale(0.82,1)" x="0" y="0" font-size="7" text-anchor="middle" stroke="#1a1a1a" stroke-width="0.25">-10<tspan dy="-2.52" font-size="4.76">3</tspan></text>
<text transform="translate(53.14,507.8) scale(0.82,1)" x="0" y="0" font-size="7" text-anchor="middle" stroke="#1a1a1a" stroke-width="0.25">0</text>
<text transform="translate(62.88,507.8) scale(0.82,1)" x="0" y="0" font-size="7" text-anchor="middle" stroke="#1a1a1a" stroke-width="0.25">10<tspan dy="-2.52" font-size="4.76">3</tspan></text>
<text transform="translate(77.75,507.8) scale(0.82,1)" x="0" y="0" font-size="7" text-anchor="middle" stroke="#1a1a1a" stroke-width="0.25">10<tspan dy="-2.52" font-size="4.76">4</tspan></text>
<text transform="translate(89.74,507.8) scale(0.82,1)" x="0" y="0" font-size="7" text-anchor="middle" stroke="#1a1a1a" stroke-width="0.25">10<tspan dy="-2.52" font-size="4.76">5</tspan></text>
<line x1="41.8" y1="479" x2="67.6" y2="479" stroke="#111" stroke-width="1.25"/>
<line x1="67.6" y1="481.8" x2="95.3" y2="481.8" stroke="#111" stroke-width="1.25"/>
<line x1="67.6" y1="477" x2="67.6" y2="483.8" stroke="#111" stroke-width="1.25"/>
<text x="56.9" y="451.4" font-size="8.3" text-anchor="start" textLength="22.1" lengthAdjust="spacingAndGlyphs" fill="#333" stroke="#333" stroke-width="0.2">63.0%</text>
<text x="71" y="477.5" font-size="8.3" text-anchor="start" textLength="21.4" lengthAdjust="spacingAndGlyphs" fill="#333" stroke="#333" stroke-width="0.2">37.0%</text>
<text x="68.25" y="437.2" font-size="6.5" text-anchor="middle" font-weight="bold" textLength="41.9" lengthAdjust="spacingAndGlyphs" stroke="#1a1a1a" stroke-width="0">CD44-CD62L-</text>
<path d="M129.4,494.8 L129.9,487.83 L130.4,479 L131.1,451 L131.5,445 L131.9,450 L132.6,473.4 L133.15,484.74 L133.7,491.3 L134.25,493.65 L134.8,494.6 L135.3,494.6 L135.8,494.6 L136.3,494.6 L136.8,494.6 L137.3,494.6 L137.8,494.6 L138.3,494.6 L138.8,494.6 L139.3,494.6 L139.8,494.6 L140.3,494.6 L140.8,494.6 L141.3,494.6 L141.8,494.6 L142.3,494.6 L142.8,494.6 L143.3,494.6 L143.8,494.6 L144.3,494.6 L144.8,494.6 L145.3,494.6 L145.8,494.6 L146.3,494.6 L146.8,494.6 L147.3,494.6 L147.8,494.6 L148.3,494.6 L148.8,494.6 L149.3,494.6 L149.8,494.6 L150.3,494.6 L150.8,494.6 L151.3,494.6 L151.8,494.6 L152.3,494.6 L152.8,494.6 L153.3,494.6 L153.8,494.6 L154.35,494.29 L154.9,493.42 L155.45,492.12 L156,490.51 L156.55,488.7 L157.1,486.8 L157.68,484.01 L158.25,480.21 L158.82,476.37 L159.4,473.4 L160.05,470.82 L160.7,469.5 L161.2,470.51 L161.7,472.91 L162.2,475.7 L162.73,479.73 L163.27,484.58 L163.8,487.9 L164.36,489.59 L164.92,490.93 L165.48,492 L166.04,492.83 L166.6,493.5 L167.17,494.01 L167.73,494.4 L168.3,494.8" fill="none" stroke="#961a40" stroke-width="1.5" stroke-linejoin="round"/>
<rect x="119.2" y="441.3" width="53.6" height="53.5" fill="none" stroke="#000" stroke-width="1.35"/>
<line x1="115.9" y1="448.5" x2="119.2" y2="448.5" stroke="#111" stroke-width="1.1"/>
<text x="113.4" y="450.84" font-size="6.6" text-anchor="end" stroke="#1a1a1a" stroke-width="0.21">600</text>
<line x1="115.9" y1="464.4" x2="119.2" y2="464.4" stroke="#111" stroke-width="1.1"/>
<text x="113.4" y="466.74" font-size="6.6" text-anchor="end" stroke="#1a1a1a" stroke-width="0.21">400</text>
<line x1="115.9" y1="479.8" x2="119.2" y2="479.8" stroke="#111" stroke-width="1.1"/>
<text x="113.4" y="482.14" font-size="6.6" text-anchor="end" stroke="#1a1a1a" stroke-width="0.21">200</text>
<line x1="115.9" y1="494.8" x2="119.2" y2="494.8" stroke="#111" stroke-width="1.1"/>
<text x="113.4" y="497.14" font-size="6.6" text-anchor="end" stroke="#1a1a1a" stroke-width="0.21">0</text>
<line x1="117.6" y1="494.8" x2="119.2" y2="494.8" stroke="#111" stroke-width="0.8"/>
<line x1="117.6" y1="491.05" x2="119.2" y2="491.05" stroke="#111" stroke-width="0.8"/>
<line x1="117.6" y1="487.3" x2="119.2" y2="487.3" stroke="#111" stroke-width="0.8"/>
<line x1="117.6" y1="483.55" x2="119.2" y2="483.55" stroke="#111" stroke-width="0.8"/>
<line x1="117.6" y1="479.8" x2="119.2" y2="479.8" stroke="#111" stroke-width="0.8"/>
<line x1="117.6" y1="476.05" x2="119.2" y2="476.05" stroke="#111" stroke-width="0.8"/>
<line x1="117.6" y1="472.3" x2="119.2" y2="472.3" stroke="#111" stroke-width="0.8"/>
<line x1="117.6" y1="468.55" x2="119.2" y2="468.55" stroke="#111" stroke-width="0.8"/>
<line x1="117.6" y1="464.8" x2="119.2" y2="464.8" stroke="#111" stroke-width="0.8"/>
<line x1="117.6" y1="461.05" x2="119.2" y2="461.05" stroke="#111" stroke-width="0.8"/>
<line x1="117.6" y1="457.3" x2="119.2" y2="457.3" stroke="#111" stroke-width="0.8"/>
<line x1="117.6" y1="453.55" x2="119.2" y2="453.55" stroke="#111" stroke-width="0.8"/>
<line x1="117.6" y1="449.8" x2="119.2" y2="449.8" stroke="#111" stroke-width="0.8"/>
<line x1="117.6" y1="446.05" x2="119.2" y2="446.05" stroke="#111" stroke-width="0.8"/>
<line x1="120.51" y1="494.8" x2="120.51" y2="497.3" stroke="#111" stroke-width="1.1"/>
<line x1="130.56" y1="494.8" x2="130.56" y2="497.3" stroke="#111" stroke-width="1.1"/>
<line x1="139.22" y1="494.8" x2="139.22" y2="497.3" stroke="#111" stroke-width="1.1"/>
<line x1="154.12" y1="494.8" x2="154.12" y2="497.3" stroke="#111" stroke-width="1.1"/>
<line x1="166.13" y1="494.8" x2="166.13" y2="497.3" stroke="#111" stroke-width="1.1"/>
<line x1="121.34" y1="494.8" x2="121.34" y2="496.4" stroke="#111" stroke-width="0.7"/>
<line x1="123.33" y1="494.8" x2="123.33" y2="496.4" stroke="#111" stroke-width="0.7"/>
<line x1="125.31" y1="494.8" x2="125.31" y2="496.4" stroke="#111" stroke-width="0.7"/>
<line x1="127.29" y1="494.8" x2="127.29" y2="496.4" stroke="#111" stroke-width="0.7"/>
<line x1="129.28" y1="494.8" x2="129.28" y2="496.4" stroke="#111" stroke-width="0.7"/>
<line x1="131.26" y1="494.8" x2="131.26" y2="496.4" stroke="#111" stroke-width="0.7"/>
<line x1="133.24" y1="494.8" x2="133.24" y2="496.4" stroke="#111" stroke-width="0.7"/>
<line x1="135.23" y1="494.8" x2="135.23" y2="496.4" stroke="#111" stroke-width="0.7"/>
<line x1="137.21" y1="494.8" x2="137.21" y2="496.4" stroke="#111" stroke-width="0.7"/>
<line x1="139.19" y1="494.8" x2="139.19" y2="496.4" stroke="#111" stroke-width="0.7"/>
<line x1="141.18" y1="494.8" x2="141.18" y2="496.4" stroke="#111" stroke-width="0.7"/>
<line x1="143.16" y1="494.8" x2="143.16" y2="496.4" stroke="#111" stroke-width="0.7"/>
<line x1="145.14" y1="494.8" x2="145.14" y2="496.4" stroke="#111" stroke-width="0.7"/>
<line x1="147.13" y1="494.8" x2="147.13" y2="496.4" stroke="#111" stroke-width="0.7"/>
<line x1="149.11" y1="494.8" x2="149.11" y2="496.4" stroke="#111" stroke-width="0.7"/>
<line x1="151.09" y1="494.8" x2="151.09" y2="496.4" stroke="#111" stroke-width="0.7"/>
<line x1="153.08" y1="494.8" x2="153.08" y2="496.4" stroke="#111" stroke-width="0.7"/>
<line x1="155.06" y1="494.8" x2="155.06" y2="496.4" stroke="#111" stroke-width="0.7"/>
<line x1="157.04" y1="494.8" x2="157.04" y2="496.4" stroke="#111" stroke-width="0.7"/>
<line x1="159.02" y1="494.8" x2="159.02" y2="496.4" stroke="#111" stroke-width="0.7"/>
<line x1="161.01" y1="494.8" x2="161.01" y2="496.4" stroke="#111" stroke-width="0.7"/>
<line x1="162.99" y1="494.8" x2="162.99" y2="496.4" stroke="#111" stroke-width="0.7"/>
<line x1="164.97" y1="494.8" x2="164.97" y2="496.4" stroke="#111" stroke-width="0.7"/>
<line x1="166.96" y1="494.8" x2="166.96" y2="496.4" stroke="#111" stroke-width="0.7"/>
<line x1="168.94" y1="494.8" x2="168.94" y2="496.4" stroke="#111" stroke-width="0.7"/>
<line x1="170.92" y1="494.8" x2="170.92" y2="496.4" stroke="#111" stroke-width="0.7"/>
<rect x="130.19" y="494.8" width="2.68" height="1.88" fill="#111"/>
<text transform="translate(120.11,507.8) scale(0.82,1)" x="0" y="0" font-size="7" text-anchor="middle" stroke="#1a1a1a" stroke-width="0.25">-10<tspan dy="-2.52" font-size="4.76">3</tspan></text>
<text transform="translate(130.56,507.8) scale(0.82,1)" x="0" y="0" font-size="7" text-anchor="middle" stroke="#1a1a1a" stroke-width="0.25">0</text>
<text transform="translate(140.32,507.8) scale(0.82,1)" x="0" y="0" font-size="7" text-anchor="middle" stroke="#1a1a1a" stroke-width="0.25">10<tspan dy="-2.52" font-size="4.76">3</tspan></text>
<text transform="translate(155.22,507.8) scale(0.82,1)" x="0" y="0" font-size="7" text-anchor="middle" stroke="#1a1a1a" stroke-width="0.25">10<tspan dy="-2.52" font-size="4.76">4</tspan></text>
<text transform="translate(167.23,507.8) scale(0.82,1)" x="0" y="0" font-size="7" text-anchor="middle" stroke="#1a1a1a" stroke-width="0.25">10<tspan dy="-2.52" font-size="4.76">5</tspan></text>
<line x1="119.2" y1="485.5" x2="145.4" y2="485.5" stroke="#111" stroke-width="1.25"/>
<line x1="145.4" y1="488.5" x2="172.8" y2="488.5" stroke="#111" stroke-width="1.25"/>
<line x1="145.4" y1="483.5" x2="145.4" y2="490.5" stroke="#111" stroke-width="1.25"/>
<text x="133.7" y="452.3" font-size="8.3" text-anchor="start" textLength="21.8" lengthAdjust="spacingAndGlyphs" fill="#333" stroke="#333" stroke-width="0.2">48.1%</text>
<text x="149.3" y="464.8" font-size="8.3" text-anchor="start" textLength="21.2" lengthAdjust="spacingAndGlyphs" fill="#333" stroke="#333" stroke-width="0.2">51.9%</text>
<text x="146.5" y="437.3" font-size="6.5" text-anchor="middle" font-weight="bold" textLength="44.4" lengthAdjust="spacingAndGlyphs" stroke="#1a1a1a" stroke-width="0">CD44-CD62L+</text>
<path d="M205.3,494.8 L205.9,483.82 L206.5,473.4 L207.1,463.38 L207.7,456 L208.2,453.4 L208.7,456 L209.6,465.6 L210.3,476.19 L211,484.6 L211.53,487.23 L212.07,489.09 L212.6,490.2 L213.16,490.92 L213.72,491.52 L214.28,491.99 L214.84,492.29 L215.4,492.4 L215.91,492.39 L216.42,492.36 L216.93,492.32 L217.44,492.27 L217.95,492.21 L218.45,492.14 L218.96,492.07 L219.47,492 L219.98,491.93 L220.49,491.86 L221,491.8 L221.55,491.74 L222.1,491.7 L222.65,491.65 L223.2,491.61 L223.75,491.55 L224.3,491.49 L224.85,491.4 L225.4,491.3 L225.97,491.07 L226.53,490.66 L227.1,490.1 L227.67,489.44 L228.23,488.73 L228.8,488 L229.3,487.22 L229.8,486.28 L230.3,485.34 L230.8,484.6 L231.43,483.83 L232.07,483.18 L232.7,482.9 L233.27,483.99 L233.83,486.2 L234.4,488 L234.93,488.96 L235.47,489.74 L236,490.2 L236.57,490.4 L237.13,490.52 L237.7,490.7 L238.25,491.12 L238.8,491.75 L239.35,492.44 L239.9,493 L240.46,493.42 L241.02,493.78 L241.58,494.12 L242.14,494.45 L242.7,494.8" fill="none" stroke="#961a40" stroke-width="1.5" stroke-linejoin="round"/>
<rect x="194.9" y="442.2" width="53.3" height="52.6" fill="none" stroke="#000" stroke-width="1.35"/>
<line x1="191.6" y1="441.8" x2="194.9" y2="441.8" stroke="#111" stroke-width="1.1"/>
<text x="189.1" y="444.14" font-size="6.6" text-anchor="end" stroke="#1a1a1a" stroke-width="0.21">25</text>
<line x1="191.6" y1="452.8" x2="194.9" y2="452.8" stroke="#111" stroke-width="1.1"/>
<text x="189.1" y="455.14" font-size="6.6" text-anchor="end" stroke="#1a1a1a" stroke-width="0.21">20</text>
<line x1="191.6" y1="463.3" x2="194.9" y2="463.3" stroke="#111" stroke-width="1.1"/>
<text x="189.1" y="465.64" font-size="6.6" text-anchor="end" stroke="#1a1a1a" stroke-width="0.21">15</text>
<line x1="191.6" y1="473.9" x2="194.9" y2="473.9" stroke="#111" stroke-width="1.1"/>
<text x="189.1" y="476.24" font-size="6.6" text-anchor="end" stroke="#1a1a1a" stroke-width="0.21">10</text>
<line x1="191.6" y1="484.5" x2="194.9" y2="484.5" stroke="#111" stroke-width="1.1"/>
<text x="189.1" y="486.84" font-size="6.6" text-anchor="end" stroke="#1a1a1a" stroke-width="0.21">5.0</text>
<line x1="191.6" y1="494.8" x2="194.9" y2="494.8" stroke="#111" stroke-width="1.1"/>
<text x="189.1" y="497.14" font-size="6.6" text-anchor="end" stroke="#1a1a1a" stroke-width="0.21">0</text>
<line x1="193.3" y1="494.8" x2="194.9" y2="494.8" stroke="#111" stroke-width="0.8"/>
<line x1="193.3" y1="492.23" x2="194.9" y2="492.23" stroke="#111" stroke-width="0.8"/>
<line x1="193.3" y1="489.65" x2="194.9" y2="489.65" stroke="#111" stroke-width="0.8"/>
<line x1="193.3" y1="487.08" x2="194.9" y2="487.08" stroke="#111" stroke-width="0.8"/>
<line x1="193.3" y1="484.5" x2="194.9" y2="484.5" stroke="#111" stroke-width="0.8"/>
<line x1="193.3" y1="481.93" x2="194.9" y2="481.93" stroke="#111" stroke-width="0.8"/>
<line x1="193.3" y1="479.35" x2="194.9" y2="479.35" stroke="#111" stroke-width="0.8"/>
<line x1="193.3" y1="476.78" x2="194.9" y2="476.78" stroke="#111" stroke-width="0.8"/>
<line x1="193.3" y1="474.2" x2="194.9" y2="474.2" stroke="#111" stroke-width="0.8"/>
<line x1="193.3" y1="471.63" x2="194.9" y2="471.63" stroke="#111" stroke-width="0.8"/>
<line x1="193.3" y1="469.05" x2="194.9" y2="469.05" stroke="#111" stroke-width="0.8"/>
<line x1="193.3" y1="466.48" x2="194.9" y2="466.48" stroke="#111" stroke-width="0.8"/>
<line x1="193.3" y1="463.9" x2="194.9" y2="463.9" stroke="#111" stroke-width="0.8"/>
<line x1="193.3" y1="461.33" x2="194.9" y2="461.33" stroke="#111" stroke-width="0.8"/>
<line x1="193.3" y1="458.75" x2="194.9" y2="458.75" stroke="#111" stroke-width="0.8"/>
<line x1="193.3" y1="456.18" x2="194.9" y2="456.18" stroke="#111" stroke-width="0.8"/>
<line x1="193.3" y1="453.6" x2="194.9" y2="453.6" stroke="#111" stroke-width="0.8"/>
<line x1="193.3" y1="451.03" x2="194.9" y2="451.03" stroke="#111" stroke-width="0.8"/>
<line x1="193.3" y1="448.45" x2="194.9" y2="448.45" stroke="#111" stroke-width="0.8"/>
<line x1="193.3" y1="445.88" x2="194.9" y2="445.88" stroke="#111" stroke-width="0.8"/>
<line x1="193.3" y1="443.3" x2="194.9" y2="443.3" stroke="#111" stroke-width="0.8"/>
<line x1="196.21" y1="494.8" x2="196.21" y2="497.3" stroke="#111" stroke-width="1.1"/>
<line x1="206.2" y1="494.8" x2="206.2" y2="497.3" stroke="#111" stroke-width="1.1"/>
<line x1="214.8" y1="494.8" x2="214.8" y2="497.3" stroke="#111" stroke-width="1.1"/>
<line x1="229.62" y1="494.8" x2="229.62" y2="497.3" stroke="#111" stroke-width="1.1"/>
<line x1="241.56" y1="494.8" x2="241.56" y2="497.3" stroke="#111" stroke-width="1.1"/>
<line x1="197.03" y1="494.8" x2="197.03" y2="496.4" stroke="#111" stroke-width="0.7"/>
<line x1="199" y1="494.8" x2="199" y2="496.4" stroke="#111" stroke-width="0.7"/>
<line x1="200.98" y1="494.8" x2="200.98" y2="496.4" stroke="#111" stroke-width="0.7"/>
<line x1="202.95" y1="494.8" x2="202.95" y2="496.4" stroke="#111" stroke-width="0.7"/>
<line x1="204.92" y1="494.8" x2="204.92" y2="496.4" stroke="#111" stroke-width="0.7"/>
<line x1="206.89" y1="494.8" x2="206.89" y2="496.4" stroke="#111" stroke-width="0.7"/>
<line x1="208.86" y1="494.8" x2="208.86" y2="496.4" stroke="#111" stroke-width="0.7"/>
<line x1="210.84" y1="494.8" x2="210.84" y2="496.4" stroke="#111" stroke-width="0.7"/>
<line x1="212.81" y1="494.8" x2="212.81" y2="496.4" stroke="#111" stroke-width="0.7"/>
<line x1="214.78" y1="494.8" x2="214.78" y2="496.4" stroke="#111" stroke-width="0.7"/>
<line x1="216.75" y1="494.8" x2="216.75" y2="496.4" stroke="#111" stroke-width="0.7"/>
<line x1="218.73" y1="494.8" x2="218.73" y2="496.4" stroke="#111" stroke-width="0.7"/>
<line x1="220.7" y1="494.8" x2="220.7" y2="496.4" stroke="#111" stroke-width="0.7"/>
<line x1="222.67" y1="494.8" x2="222.67" y2="496.4" stroke="#111" stroke-width="0.7"/>
<line x1="224.64" y1="494.8" x2="224.64" y2="496.4" stroke="#111" stroke-width="0.7"/>
<line x1="226.61" y1="494.8" x2="226.61" y2="496.4" stroke="#111" stroke-width="0.7"/>
<line x1="228.59" y1="494.8" x2="228.59" y2="496.4" stroke="#111" stroke-width="0.7"/>
<line x1="230.56" y1="494.8" x2="230.56" y2="496.4" stroke="#111" stroke-width="0.7"/>
<line x1="232.53" y1="494.8" x2="232.53" y2="496.4" stroke="#111" stroke-width="0.7"/>
<line x1="234.5" y1="494.8" x2="234.5" y2="496.4" stroke="#111" stroke-width="0.7"/>
<line x1="236.47" y1="494.8" x2="236.47" y2="496.4" stroke="#111" stroke-width="0.7"/>
<line x1="238.45" y1="494.8" x2="238.45" y2="496.4" stroke="#111" stroke-width="0.7"/>
<line x1="240.42" y1="494.8" x2="240.42" y2="496.4" stroke="#111" stroke-width="0.7"/>
<line x1="242.39" y1="494.8" x2="242.39" y2="496.4" stroke="#111" stroke-width="0.7"/>
<line x1="244.36" y1="494.8" x2="244.36" y2="496.4" stroke="#111" stroke-width="0.7"/>
<line x1="246.33" y1="494.8" x2="246.33" y2="496.4" stroke="#111" stroke-width="0.7"/>
<rect x="205.83" y="494.8" width="2.66" height="1.88" fill="#111"/>
<text transform="translate(195.81,507.8) scale(0.82,1)" x="0" y="0" font-size="7" text-anchor="middle" stroke="#1a1a1a" stroke-width="0.25">-10<tspan dy="-2.52" font-size="4.76">3</tspan></text>
<text transform="translate(206.2,507.8) scale(0.82,1)" x="0" y="0" font-size="7" text-anchor="middle" stroke="#1a1a1a" stroke-width="0.25">0</text>
<text transform="translate(215.9,507.8) scale(0.82,1)" x="0" y="0" font-size="7" text-anchor="middle" stroke="#1a1a1a" stroke-width="0.25">10<tspan dy="-2.52" font-size="4.76">3</tspan></text>
<text transform="translate(230.72,507.8) scale(0.82,1)" x="0" y="0" font-size="7" text-anchor="middle" stroke="#1a1a1a" stroke-width="0.25">10<tspan dy="-2.52" font-size="4.76">4</tspan></text>
<text transform="translate(242.66,507.8) scale(0.82,1)" x="0" y="0" font-size="7" text-anchor="middle" stroke="#1a1a1a" stroke-width="0.25">10<tspan dy="-2.52" font-size="4.76">5</tspan></text>
<line x1="194.9" y1="485.7" x2="221" y2="485.7" stroke="#111" stroke-width="1.25"/>
<line x1="221" y1="488.5" x2="248.2" y2="488.5" stroke="#111" stroke-width="1.25"/>
<line x1="221" y1="483.7" x2="221" y2="490.5" stroke="#111" stroke-width="1.25"/>
<text x="201.8" y="450.7" font-size="8.3" text-anchor="start" textLength="21" lengthAdjust="spacingAndGlyphs" fill="#333" stroke="#333" stroke-width="0.2">62.8%</text>
<text x="223.8" y="481.6" font-size="8.3" text-anchor="start" textLength="21.2" lengthAdjust="spacingAndGlyphs" fill="#333" stroke="#333" stroke-width="0.2">37.2%</text>
<text x="221.6" y="438.75" font-size="6.5" text-anchor="middle" font-weight="bold" textLength="41.8" lengthAdjust="spacingAndGlyphs" stroke="#1a1a1a" stroke-width="0">CD44-CD62L-</text>
<path d="M282.3,494.8 L282.9,485.01 L283.5,473.4 L284.2,450 L284.6,445.6 L285,450 L285.7,467.9 L286.25,481.32 L286.8,490.2 L287.4,493.34 L288,494.6 L288.5,494.6 L289.01,494.6 L289.51,494.6 L290.01,494.6 L290.52,494.6 L291.02,494.6 L291.52,494.6 L292.03,494.6 L292.53,494.6 L293.03,494.6 L293.54,494.6 L294.04,494.6 L294.54,494.6 L295.05,494.6 L295.55,494.6 L296.05,494.6 L296.55,494.6 L297.06,494.6 L297.56,494.6 L298.06,494.6 L298.57,494.6 L299.07,494.6 L299.57,494.6 L300.08,494.6 L300.58,494.6 L301.08,494.6 L301.59,494.6 L302.09,494.6 L302.59,494.6 L303.1,494.6 L303.6,494.6 L304.15,494.22 L304.7,493.23 L305.25,491.82 L305.8,490.2 L306.35,487.75 L306.9,484.21 L307.45,480.31 L308,476.8 L308.5,473.73 L309,470.79 L309.5,469 L310,468.4 L310.5,469 L311.2,472.64 L311.9,477.9 L312.47,482.06 L313.03,486.25 L313.6,489 L314.16,490.35 L314.72,491.41 L315.28,492.24 L315.84,492.91 L316.4,493.5 L316.97,493.99 L317.53,494.4 L318.1,494.8" fill="none" stroke="#961a40" stroke-width="1.5" stroke-linejoin="round"/>
<rect x="271.5" y="442" width="53.5" height="52.8" fill="none" stroke="#000" stroke-width="1.35"/>
<line x1="268.2" y1="448.8" x2="271.5" y2="448.8" stroke="#111" stroke-width="1.1"/>
<text x="265.7" y="451.14" font-size="6.6" text-anchor="end" stroke="#1a1a1a" stroke-width="0.21">400</text>
<line x1="268.2" y1="460.4" x2="271.5" y2="460.4" stroke="#111" stroke-width="1.1"/>
<text x="265.7" y="462.74" font-size="6.6" text-anchor="end" stroke="#1a1a1a" stroke-width="0.21">300</text>
<line x1="268.2" y1="471.9" x2="271.5" y2="471.9" stroke="#111" stroke-width="1.1"/>
<text x="265.7" y="474.24" font-size="6.6" text-anchor="end" stroke="#1a1a1a" stroke-width="0.21">200</text>
<line x1="268.2" y1="483.5" x2="271.5" y2="483.5" stroke="#111" stroke-width="1.1"/>
<text x="265.7" y="485.84" font-size="6.6" text-anchor="end" stroke="#1a1a1a" stroke-width="0.21">100</text>
<line x1="268.2" y1="494.8" x2="271.5" y2="494.8" stroke="#111" stroke-width="1.1"/>
<text x="265.7" y="497.14" font-size="6.6" text-anchor="end" stroke="#1a1a1a" stroke-width="0.21">0</text>
<line x1="269.9" y1="494.8" x2="271.5" y2="494.8" stroke="#111" stroke-width="0.8"/>
<line x1="269.9" y1="491.98" x2="271.5" y2="491.98" stroke="#111" stroke-width="0.8"/>
<line x1="269.9" y1="489.15" x2="271.5" y2="489.15" stroke="#111" stroke-width="0.8"/>
<line x1="269.9" y1="486.33" x2="271.5" y2="486.33" stroke="#111" stroke-width="0.8"/>
<line x1="269.9" y1="483.5" x2="271.5" y2="483.5" stroke="#111" stroke-width="0.8"/>
<line x1="269.9" y1="480.68" x2="271.5" y2="480.68" stroke="#111" stroke-width="0.8"/>
<line x1="269.9" y1="477.85" x2="271.5" y2="477.85" stroke="#111" stroke-width="0.8"/>
<line x1="269.9" y1="475.03" x2="271.5" y2="475.03" stroke="#111" stroke-width="0.8"/>
<line x1="269.9" y1="472.2" x2="271.5" y2="472.2" stroke="#111" stroke-width="0.8"/>
<line x1="269.9" y1="469.38" x2="271.5" y2="469.38" stroke="#111" stroke-width="0.8"/>
<line x1="269.9" y1="466.55" x2="271.5" y2="466.55" stroke="#111" stroke-width="0.8"/>
<line x1="269.9" y1="463.73" x2="271.5" y2="463.73" stroke="#111" stroke-width="0.8"/>
<line x1="269.9" y1="460.9" x2="271.5" y2="460.9" stroke="#111" stroke-width="0.8"/>
<line x1="269.9" y1="458.08" x2="271.5" y2="458.08" stroke="#111" stroke-width="0.8"/>
<line x1="269.9" y1="455.25" x2="271.5" y2="455.25" stroke="#111" stroke-width="0.8"/>
<line x1="269.9" y1="452.43" x2="271.5" y2="452.43" stroke="#111" stroke-width="0.8"/>
<line x1="269.9" y1="449.6" x2="271.5" y2="449.6" stroke="#111" stroke-width="0.8"/>
<line x1="269.9" y1="446.78" x2="271.5" y2="446.78" stroke="#111" stroke-width="0.8"/>
<line x1="269.9" y1="443.95" x2="271.5" y2="443.95" stroke="#111" stroke-width="0.8"/>
<line x1="272.81" y1="494.8" x2="272.81" y2="497.3" stroke="#111" stroke-width="1.1"/>
<line x1="282.84" y1="494.8" x2="282.84" y2="497.3" stroke="#111" stroke-width="1.1"/>
<line x1="291.48" y1="494.8" x2="291.48" y2="497.3" stroke="#111" stroke-width="1.1"/>
<line x1="306.35" y1="494.8" x2="306.35" y2="497.3" stroke="#111" stroke-width="1.1"/>
<line x1="318.34" y1="494.8" x2="318.34" y2="497.3" stroke="#111" stroke-width="1.1"/>
<line x1="273.64" y1="494.8" x2="273.64" y2="496.4" stroke="#111" stroke-width="0.7"/>
<line x1="275.62" y1="494.8" x2="275.62" y2="496.4" stroke="#111" stroke-width="0.7"/>
<line x1="277.6" y1="494.8" x2="277.6" y2="496.4" stroke="#111" stroke-width="0.7"/>
<line x1="279.58" y1="494.8" x2="279.58" y2="496.4" stroke="#111" stroke-width="0.7"/>
<line x1="281.56" y1="494.8" x2="281.56" y2="496.4" stroke="#111" stroke-width="0.7"/>
<line x1="283.54" y1="494.8" x2="283.54" y2="496.4" stroke="#111" stroke-width="0.7"/>
<line x1="285.52" y1="494.8" x2="285.52" y2="496.4" stroke="#111" stroke-width="0.7"/>
<line x1="287.5" y1="494.8" x2="287.5" y2="496.4" stroke="#111" stroke-width="0.7"/>
<line x1="289.48" y1="494.8" x2="289.48" y2="496.4" stroke="#111" stroke-width="0.7"/>
<line x1="291.46" y1="494.8" x2="291.46" y2="496.4" stroke="#111" stroke-width="0.7"/>
<line x1="293.44" y1="494.8" x2="293.44" y2="496.4" stroke="#111" stroke-width="0.7"/>
<line x1="295.41" y1="494.8" x2="295.41" y2="496.4" stroke="#111" stroke-width="0.7"/>
<line x1="297.39" y1="494.8" x2="297.39" y2="496.4" stroke="#111" stroke-width="0.7"/>
<line x1="299.37" y1="494.8" x2="299.37" y2="496.4" stroke="#111" stroke-width="0.7"/>
<line x1="301.35" y1="494.8" x2="301.35" y2="496.4" stroke="#111" stroke-width="0.7"/>
<line x1="303.33" y1="494.8" x2="303.33" y2="496.4" stroke="#111" stroke-width="0.7"/>
<line x1="305.31" y1="494.8" x2="305.31" y2="496.4" stroke="#111" stroke-width="0.7"/>
<line x1="307.29" y1="494.8" x2="307.29" y2="496.4" stroke="#111" stroke-width="0.7"/>
<line x1="309.27" y1="494.8" x2="309.27" y2="496.4" stroke="#111" stroke-width="0.7"/>
<line x1="311.25" y1="494.8" x2="311.25" y2="496.4" stroke="#111" stroke-width="0.7"/>
<line x1="313.23" y1="494.8" x2="313.23" y2="496.4" stroke="#111" stroke-width="0.7"/>
<line x1="315.21" y1="494.8" x2="315.21" y2="496.4" stroke="#111" stroke-width="0.7"/>
<line x1="317.19" y1="494.8" x2="317.19" y2="496.4" stroke="#111" stroke-width="0.7"/>
<line x1="319.17" y1="494.8" x2="319.17" y2="496.4" stroke="#111" stroke-width="0.7"/>
<line x1="321.15" y1="494.8" x2="321.15" y2="496.4" stroke="#111" stroke-width="0.7"/>
<line x1="323.13" y1="494.8" x2="323.13" y2="496.4" stroke="#111" stroke-width="0.7"/>
<rect x="282.47" y="494.8" width="2.68" height="1.88" fill="#111"/>
<text transform="translate(272.41,507.8) scale(0.82,1)" x="0" y="0" font-size="7" text-anchor="middle" stroke="#1a1a1a" stroke-width="0.25">-10<tspan dy="-2.52" font-size="4.76">3</tspan></text>
<text transform="translate(282.84,507.8) scale(0.82,1)" x="0" y="0" font-size="7" text-anchor="middle" stroke="#1a1a1a" stroke-width="0.25">0</text>
<text transform="translate(292.58,507.8) scale(0.82,1)" x="0" y="0" font-size="7" text-anchor="middle" stroke="#1a1a1a" stroke-width="0.25">10<tspan dy="-2.52" font-size="4.76">3</tspan></text>
<text transform="translate(307.45,507.8) scale(0.82,1)" x="0" y="0" font-size="7" text-anchor="middle" stroke="#1a1a1a" stroke-width="0.25">10<tspan dy="-2.52" font-size="4.76">4</tspan></text>
<text transform="translate(319.44,507.8) scale(0.82,1)" x="0" y="0" font-size="7" text-anchor="middle" stroke="#1a1a1a" stroke-width="0.25">10<tspan dy="-2.52" font-size="4.76">5</tspan></text>
<line x1="271.5" y1="485.9" x2="298.2" y2="485.9" stroke="#111" stroke-width="1.25"/>
<line x1="298.2" y1="488.5" x2="325" y2="488.5" stroke="#111" stroke-width="1.25"/>
<line x1="298.2" y1="483.9" x2="298.2" y2="490.5" stroke="#111" stroke-width="1.25"/>
<text x="286.8" y="451" font-size="8.3" text-anchor="start" textLength="21.8" lengthAdjust="spacingAndGlyphs" fill="#333" stroke="#333" stroke-width="0.2">48.3%</text>
<text x="301.9" y="465.7" font-size="8.3" text-anchor="start" textLength="21.7" lengthAdjust="spacingAndGlyphs" fill="#333" stroke="#333" stroke-width="0.2">51.7%</text>
<text x="298.85" y="438.5" font-size="6.5" text-anchor="middle" font-weight="bold" textLength="43.1" lengthAdjust="spacingAndGlyphs" stroke="#1a1a1a" stroke-width="0">CD44-CD62L+</text>
<text x="21.5" y="493.6" font-size="10" text-anchor="middle" textLength="37.7" lengthAdjust="spacingAndGlyphs" transform="rotate(-90 21.5 493.6)" stroke="#1a1a1a" stroke-width="0.12">Cell count</text>
<line x1="26.9" y1="492" x2="26.9" y2="513.5" stroke="#111" stroke-width="1.35"/>
<line x1="26.9" y1="513.5" x2="47.7" y2="513.5" stroke="#111" stroke-width="1.35"/>
<text x="26.5" y="525.4" font-size="10" text-anchor="start" textLength="56" lengthAdjust="spacingAndGlyphs" stroke="#1a1a1a" stroke-width="0.12">eGFP-HDAC11</text>
<text x="341.9" y="330.3" font-size="12.4" text-anchor="start" font-weight="bold" textLength="7.2" lengthAdjust="spacingAndGlyphs" stroke="#1a1a1a" stroke-width="0.2">E</text>
<text x="442.3" y="351" font-size="9.5" text-anchor="middle" font-weight="bold" textLength="39.2" lengthAdjust="spacingAndGlyphs" stroke="#1a1a1a" stroke-width="0.43">HDAC11</text>
<text x="442.55" y="363.2" font-size="9.5" text-anchor="middle" font-weight="bold" textLength="52.5" lengthAdjust="spacingAndGlyphs" stroke="#1a1a1a" stroke-width="0.43">Expression</text>
<rect x="381.1" y="380.24" width="17.8" height="105.76" fill="none" stroke="#a53658" stroke-width="1.3"/>
<rect x="407.5" y="458.12" width="18" height="27.88" fill="none" stroke="#34447a" stroke-width="1.3"/>
<rect x="433.4" y="471.42" width="18.2" height="14.58" fill="none" stroke="#64a444" stroke-width="1.3"/>
<rect x="459.9" y="475.36" width="18.7" height="10.64" fill="none" stroke="#44336f" stroke-width="1.3"/>
<rect x="486.1" y="466" width="18.7" height="20" fill="none" stroke="#e3a63a" stroke-width="1.3"/>
<line x1="372.4" y1="369.6" x2="372.4" y2="486" stroke="#111" stroke-width="1.4"/>
<line x1="371.7" y1="486" x2="512.6" y2="486" stroke="#111" stroke-width="1.4"/>
<line x1="368.1" y1="379.6" x2="372.4" y2="379.6" stroke="#111" stroke-width="1.2"/>
<text x="367.5" y="382.4" font-size="7.8" text-anchor="end" fill="#222" stroke="#222" stroke-width="0.25">100</text>
<line x1="368.1" y1="400.88" x2="372.4" y2="400.88" stroke="#111" stroke-width="1.2"/>
<text x="367.5" y="403.68" font-size="7.8" text-anchor="end" fill="#222" stroke="#222" stroke-width="0.25">80</text>
<line x1="368.1" y1="422.16" x2="372.4" y2="422.16" stroke="#111" stroke-width="1.2"/>
<text x="367.5" y="424.96" font-size="7.8" text-anchor="end" fill="#222" stroke="#222" stroke-width="0.25">60</text>
<line x1="368.1" y1="443.44" x2="372.4" y2="443.44" stroke="#111" stroke-width="1.2"/>
<text x="367.5" y="446.24" font-size="7.8" text-anchor="end" fill="#222" stroke="#222" stroke-width="0.25">40</text>
<line x1="368.1" y1="464.72" x2="372.4" y2="464.72" stroke="#111" stroke-width="1.2"/>
<text x="367.5" y="467.52" font-size="7.8" text-anchor="end" fill="#222" stroke="#222" stroke-width="0.25">20</text>
<line x1="368.1" y1="486" x2="372.4" y2="486" stroke="#111" stroke-width="1.2"/>
<text x="367.5" y="488.8" font-size="7.8" text-anchor="end" fill="#222" stroke="#222" stroke-width="0.25">0</text>
<line x1="389.8" y1="486" x2="389.8" y2="489" stroke="#111" stroke-width="1.2"/>
<text x="389.8" y="498.6" font-size="8.6" text-anchor="middle" stroke="#1a1a1a" stroke-width="0.28">0</text>
<line x1="416.2" y1="486" x2="416.2" y2="489" stroke="#111" stroke-width="1.2"/>
<text x="416.2" y="498.6" font-size="8.6" text-anchor="middle" stroke="#1a1a1a" stroke-width="0.28">2</text>
<line x1="442.3" y1="486" x2="442.3" y2="489" stroke="#111" stroke-width="1.2"/>
<text x="442.3" y="498.6" font-size="8.6" text-anchor="middle" stroke="#1a1a1a" stroke-width="0.28">6</text>
<line x1="469.1" y1="486" x2="469.1" y2="489" stroke="#111" stroke-width="1.2"/>
<text x="469.1" y="498.6" font-size="8.6" text-anchor="middle" stroke="#1a1a1a" stroke-width="0.28">24</text>
<line x1="495.2" y1="486" x2="495.2" y2="489" stroke="#111" stroke-width="1.2"/>
<text x="495.2" y="498.6" font-size="8.6" text-anchor="middle" stroke="#1a1a1a" stroke-width="0.28">48</text>
<text x="410.8" y="510.4" font-size="10" text-anchor="start" textLength="63.4" lengthAdjust="spacingAndGlyphs" stroke="#1a1a1a" stroke-width="0.12">Hours activation</text>
<text x="348.7" y="427.9" font-size="8.2" text-anchor="middle" textLength="70" lengthAdjust="spacingAndGlyphs" transform="rotate(-90 348.7 427.9)" stroke="#1a1a1a" stroke-width="0.26">Relative fold units</text>
<circle cx="390" cy="379.5" r="2.6" fill="#a81c40"/>
<rect x="387.4" y="376.9" width="5.2" height="5.2" fill="#a81c40"/>
<path d="M390,376.38 L392.86,379.5 L390,382.62 L387.14,379.5Z" fill="#a81c40"/>
<path d="M390,376.68 L392.86,381.88 L387.14,381.88Z" fill="#a81c40"/>
<path d="M390,382.32 L392.86,377.12 L387.14,377.12Z" fill="#a81c40"/>
<circle cx="416.4" cy="409.2" r="2.6" fill="#2f3e74"/>
<path d="M416.4,463.68 L419.26,466.8 L416.4,469.92 L413.54,466.8Z" fill="#2f3e74"/>
<path d="M416.4,474.62 L419.26,469.42 L413.54,469.42Z" fill="#2f3e74"/>
<circle cx="416.4" cy="469" r="2.6" fill="#2f3e74"/>
<path d="M416.4,464.88 L419.26,470.08 L413.54,470.08Z" fill="#2f3e74"/>
<rect x="413.8" y="476" width="5.2" height="5.2" fill="#2f3e74"/>
<path d="M442.3,454.78 L445.16,457.9 L442.3,461.02 L439.44,457.9Z" fill="#5c9e3c"/>
<path d="M442.3,478.12 L445.16,472.92 L439.44,472.92Z" fill="#5c9e3c"/>
<circle cx="442.3" cy="476" r="2.6" fill="#5c9e3c"/>
<rect x="439.7" y="475.6" width="5.2" height="5.2" fill="#5c9e3c"/>
<path d="M442.3,470.88 L445.16,476.08 L439.44,476.08Z" fill="#5c9e3c"/>
<path d="M468.2,460.08 L471.06,465.28 L465.34,465.28Z" fill="#3e2c6c"/>
<circle cx="468.2" cy="468.8" r="2.6" fill="#3e2c6c"/>
<path d="M468.2,481.12 L471.06,475.92 L465.34,475.92Z" fill="#3e2c6c"/>
<rect x="465.6" y="476.4" width="5.2" height="5.2" fill="#3e2c6c"/>
<path d="M468.2,478.88 L471.06,482 L468.2,485.12 L465.34,482Z" fill="#3e2c6c"/>
<path d="M495.4,430.48 L498.26,435.68 L492.54,435.68Z" fill="#e0a232"/>
<rect x="492.8" y="474.9" width="5.2" height="5.2" fill="#e0a232"/>
<circle cx="495.4" cy="483.4" r="2.6" fill="#e0a232"/>
<path d="M495.4,482.88 L498.26,486 L495.4,489.12 L492.54,486Z" fill="#e0a232"/>
<path d="M495.4,483.12 L498.26,477.92 L492.54,477.92Z" fill="#e0a232"/>
<line x1="416.5" y1="445.25" x2="416.5" y2="471" stroke="#111" stroke-width="1.3"/>
<line x1="412.2" y1="445.25" x2="420.8" y2="445.25" stroke="#111" stroke-width="1.3"/>
<line x1="412.2" y1="471" x2="420.8" y2="471" stroke="#111" stroke-width="1.3"/>
<line x1="442.5" y1="467.49" x2="442.5" y2="474.62" stroke="#111" stroke-width="1.3"/>
<line x1="438.2" y1="467.49" x2="446.8" y2="467.49" stroke="#111" stroke-width="1.3"/>
<line x1="438.2" y1="474.62" x2="446.8" y2="474.62" stroke="#111" stroke-width="1.3"/>
<line x1="469.25" y1="471.1" x2="469.25" y2="479.08" stroke="#111" stroke-width="1.3"/>
<line x1="464.95" y1="471.1" x2="473.55" y2="471.1" stroke="#111" stroke-width="1.3"/>
<line x1="464.95" y1="479.08" x2="473.55" y2="479.08" stroke="#111" stroke-width="1.3"/>
<line x1="495.45" y1="456.85" x2="495.45" y2="474.72" stroke="#111" stroke-width="1.3"/>
<line x1="491.15" y1="456.85" x2="499.75" y2="456.85" stroke="#111" stroke-width="1.3"/>
<line x1="491.15" y1="474.72" x2="499.75" y2="474.72" stroke="#111" stroke-width="1.3"/>
</svg>
<div class="frame"></div>
</body></html>
